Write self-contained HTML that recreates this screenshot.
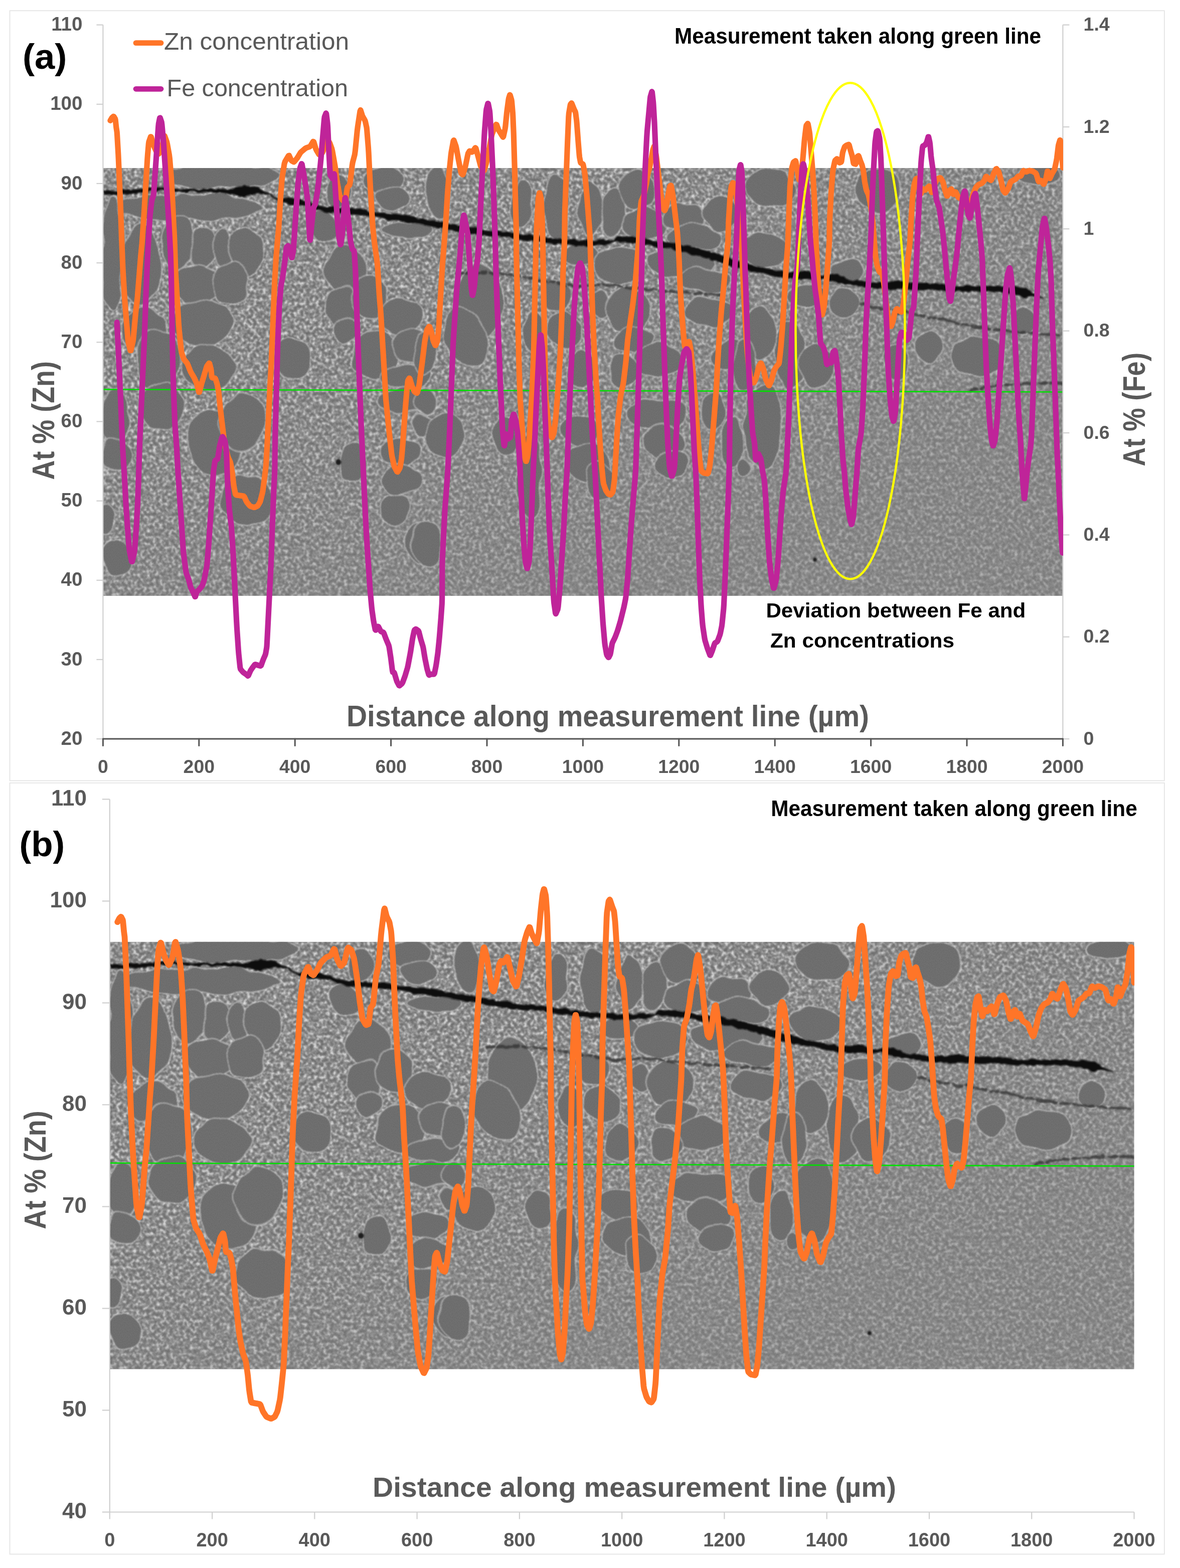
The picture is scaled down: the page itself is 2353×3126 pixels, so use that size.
<!DOCTYPE html>
<html lang="en"><head><meta charset="utf-8"><title>Zn and Fe concentration line scans</title>
<style>
html,body{margin:0;padding:0;background:#fff;}
body{width:2353px;height:3126px;overflow:hidden;}
svg{display:block;}
text{font-family:"Liberation Sans",sans-serif;}
.tk{font-weight:700;fill:#595959;}
.bk{font-weight:700;fill:#000;}
.lg{fill:#595959;}
</style></head><body>
<svg width="2353" height="3126" viewBox="0 0 2353 3126">
<defs>

<filter id="tex" x="0" y="0" width="100%" height="100%" filterUnits="objectBoundingBox" color-interpolation-filters="sRGB">
 <feTurbulence type="fractalNoise" baseFrequency="0.15" numOctaves="2" seed="7" result="t"/>
 <feColorMatrix in="t" type="matrix" values="1 0 0 0 0  1 0 0 0 0  1 0 0 0 0  0 0 0 0 1"/>
 <feComponentTransfer>
  <feFuncR type="table" tableValues="0.43 0.43 0.43 0.43 0.435 0.44 0.45 0.465 0.49 0.52 0.56 0.61 0.68 0.75 0.82 0.87 0.90 0.92 0.92 0.92 0.92"/><feFuncG type="table" tableValues="0.43 0.43 0.43 0.43 0.435 0.44 0.45 0.465 0.49 0.52 0.56 0.61 0.68 0.75 0.82 0.87 0.90 0.92 0.92 0.92 0.92"/><feFuncB type="table" tableValues="0.43 0.43 0.43 0.43 0.435 0.44 0.45 0.465 0.49 0.52 0.56 0.61 0.68 0.75 0.82 0.87 0.90 0.92 0.92 0.92 0.92"/>
 </feComponentTransfer>
 <feGaussianBlur stdDeviation="1.0"/>
</filter>
<filter id="bl1" x="0" y="0" width="100%" height="100%" filterUnits="objectBoundingBox">
 <feTurbulence type="fractalNoise" baseFrequency="0.018" numOctaves="2" seed="11" result="n"/>
 <feDisplacementMap in="SourceGraphic" in2="n" scale="22" xChannelSelector="R" yChannelSelector="G" result="d"/>
 <feGaussianBlur in="d" stdDeviation="1.2"/>
</filter>
<filter id="bl2" x="0" y="0" width="100%" height="100%" filterUnits="objectBoundingBox">
 <feTurbulence type="fractalNoise" baseFrequency="0.06" numOctaves="2" seed="5" result="n"/>
 <feDisplacementMap in="SourceGraphic" in2="n" scale="9" xChannelSelector="R" yChannelSelector="G" result="d"/>
 <feGaussianBlur in="d" stdDeviation="1.6"/>
</filter>
<filter id="bl3" x="-50%" y="-50%" width="200%" height="200%"><feGaussianBlur stdDeviation="1.5"/></filter>
<filter id="grain" x="0" y="0" width="100%" height="100%" filterUnits="objectBoundingBox" color-interpolation-filters="sRGB">
 <feTurbulence type="fractalNoise" baseFrequency="0.55" numOctaves="1" seed="21"/>
 <feColorMatrix type="matrix" values="0 0 0 0 0  0 0 0 0 0  0 0 0 0 0  1.6 0 0 0 -0.55"/>
</filter>
<linearGradient id="fade" x1="0" y1="0" x2="1" y2="1">
 <stop offset="0.3" stop-color="#898989" stop-opacity="0"/>
 <stop offset="0.75" stop-color="#898989" stop-opacity="0.5"/>
</linearGradient>
<clipPath id="semclip"><rect x="0" y="0" width="2042.8" height="851.9"/></clipPath>

<clipPath id="clipA"><rect x="203.4" y="0" width="1916.6" height="1560"/></clipPath>
<clipPath id="clipB"><rect x="216.8" y="1560" width="2045.3" height="1560"/></clipPath>
<symbol id="sem" viewBox="0 0 2042.8 851.9" preserveAspectRatio="none" overflow="hidden">
<g clip-path="url(#semclip)">
<rect x="0" y="0" width="2042.8" height="851.9" fill="#8a8a8a"/>
<rect x="0" y="0" width="2042.8" height="851.9" filter="url(#tex)"/>
<rect x="0" y="0" width="2042.8" height="851.9" fill="url(#fade)"/>
<g fill="#717171" stroke="#e0e0e0" stroke-opacity="0.5" stroke-width="2.4" filter="url(#bl1)">
<rect x="0" y="0" width="2042.8" height="851.9" fill="none" stroke="none"/>
<ellipse cx="252" cy="18" rx="128" ry="25"/>
<ellipse cx="180" cy="78" rx="157" ry="27"/>
<ellipse cx="21" cy="169" rx="25" ry="113"/>
<ellipse cx="80" cy="194" rx="42" ry="84"/>
<ellipse cx="159" cy="148" rx="34" ry="54"/>
<ellipse cx="212" cy="160" rx="29" ry="39"/>
<ellipse cx="256" cy="160" rx="21" ry="37"/>
<ellipse cx="305" cy="165" rx="38" ry="52"/>
<ellipse cx="197" cy="232" rx="54" ry="39"/>
<ellipse cx="271" cy="230" rx="39" ry="42"/>
<ellipse cx="210" cy="308" rx="64" ry="47"/>
<ellipse cx="88" cy="320" rx="49" ry="39" transform="rotate(-20 88 320)"/>
<ellipse cx="117" cy="383" rx="47" ry="64"/>
<ellipse cx="225" cy="396" rx="57" ry="47"/>
<ellipse cx="405" cy="377" rx="37" ry="42"/>
<ellipse cx="468" cy="118" rx="32" ry="34"/>
<ellipse cx="517" cy="203" rx="44" ry="49"/>
<ellipse cx="506" cy="278" rx="34" ry="42"/>
<ellipse cx="515" cy="324" rx="27" ry="25"/>
<ellipse cx="567" cy="257" rx="39" ry="44"/>
<ellipse cx="601" cy="24" rx="44" ry="29"/>
<ellipse cx="614" cy="60" rx="39" ry="25"/>
<ellipse cx="647" cy="123" rx="54" ry="15"/>
<ellipse cx="635" cy="295" rx="47" ry="37"/>
<ellipse cx="580" cy="371" rx="49" ry="49"/>
<ellipse cx="656" cy="354" rx="44" ry="34"/>
<ellipse cx="647" cy="417" rx="54" ry="25"/>
<ellipse cx="500" cy="47" rx="25" ry="34"/>
<ellipse cx="25" cy="494" rx="32" ry="54"/>
<ellipse cx="29" cy="574" rx="32" ry="34"/>
<ellipse cx="126" cy="477" rx="44" ry="49"/>
<ellipse cx="239" cy="544" rx="57" ry="69"/>
<ellipse cx="298" cy="506" rx="49" ry="59"/>
<ellipse cx="307" cy="660" rx="54" ry="52"/>
<ellipse cx="532" cy="586" rx="29" ry="39"/>
<ellipse cx="8" cy="700" rx="20" ry="30"/>
<ellipse cx="31" cy="780" rx="32" ry="39"/>
<ellipse cx="635" cy="565" rx="44" ry="29"/>
<ellipse cx="637" cy="620" rx="42" ry="30"/>
<ellipse cx="618" cy="679" rx="34" ry="32"/>
<ellipse cx="677" cy="746" rx="30" ry="44"/>
<ellipse cx="681" cy="511" rx="25" ry="20"/>
<ellipse cx="647" cy="464" rx="59" ry="25"/>
<ellipse cx="713" cy="51" rx="27" ry="54"/>
<ellipse cx="890" cy="72" rx="25" ry="49"/>
<ellipse cx="966" cy="76" rx="27" ry="64"/>
<ellipse cx="1039" cy="81" rx="25" ry="57"/>
<ellipse cx="1085" cy="89" rx="27" ry="49"/>
<ellipse cx="1138" cy="43" rx="42" ry="37"/>
<ellipse cx="1155" cy="110" rx="49" ry="34"/>
<ellipse cx="1239" cy="97" rx="44" ry="30"/>
<ellipse cx="1317" cy="91" rx="37" ry="32"/>
<ellipse cx="1260" cy="137" rx="59" ry="25"/>
<ellipse cx="802" cy="266" rx="49" ry="74"/>
<ellipse cx="770" cy="337" rx="42" ry="61" transform="rotate(-25 770 337)"/>
<ellipse cx="684" cy="371" rx="25" ry="44"/>
<ellipse cx="966" cy="257" rx="30" ry="34"/>
<ellipse cx="982" cy="324" rx="39" ry="34"/>
<ellipse cx="1016" cy="173" rx="39" ry="25"/>
<ellipse cx="1096" cy="194" rx="54" ry="39"/>
<ellipse cx="1058" cy="270" rx="20" ry="30"/>
<ellipse cx="1117" cy="282" rx="49" ry="44"/>
<ellipse cx="1130" cy="341" rx="44" ry="25"/>
<ellipse cx="1180" cy="383" rx="54" ry="34"/>
<ellipse cx="1109" cy="404" rx="30" ry="34"/>
<ellipse cx="1230" cy="186" rx="74" ry="30"/>
<ellipse cx="1279" cy="224" rx="57" ry="25"/>
<ellipse cx="1291" cy="287" rx="52" ry="30"/>
<ellipse cx="1336" cy="371" rx="39" ry="30"/>
<ellipse cx="1020" cy="400" rx="34" ry="39"/>
<ellipse cx="919" cy="329" rx="25" ry="44"/>
<ellipse cx="726" cy="532" rx="39" ry="44"/>
<ellipse cx="688" cy="464" rx="25" ry="25"/>
<ellipse cx="858" cy="532" rx="27" ry="39"/>
<ellipse cx="909" cy="616" rx="27" ry="84"/>
<ellipse cx="1016" cy="521" rx="39" ry="32"/>
<ellipse cx="1033" cy="586" rx="49" ry="39"/>
<ellipse cx="1058" cy="624" rx="30" ry="37"/>
<ellipse cx="1180" cy="490" rx="64" ry="32"/>
<ellipse cx="1193" cy="544" rx="47" ry="34"/>
<ellipse cx="1214" cy="590" rx="34" ry="27"/>
<ellipse cx="1298" cy="485" rx="25" ry="39"/>
<ellipse cx="1340" cy="544" rx="25" ry="49"/>
<ellipse cx="690" cy="746" rx="32" ry="49"/>
<ellipse cx="1365" cy="595" rx="15" ry="20"/>
<ellipse cx="1423" cy="39" rx="54" ry="39"/>
<ellipse cx="1410" cy="165" rx="52" ry="34"/>
<ellipse cx="1650" cy="43" rx="49" ry="42"/>
<ellipse cx="1583" cy="207" rx="34" ry="25"/>
<ellipse cx="1576" cy="270" rx="32" ry="30"/>
<ellipse cx="1398" cy="329" rx="34" ry="54"/>
<ellipse cx="1461" cy="371" rx="34" ry="69"/>
<ellipse cx="1364" cy="392" rx="25" ry="49"/>
<ellipse cx="1519" cy="396" rx="39" ry="44"/>
<ellipse cx="1755" cy="354" rx="30" ry="34"/>
<ellipse cx="1862" cy="375" rx="57" ry="39"/>
<ellipse cx="1957" cy="303" rx="30" ry="25"/>
<ellipse cx="1995" cy="13" rx="44" ry="20"/>
<ellipse cx="1688" cy="387" rx="25" ry="34"/>
<ellipse cx="1498" cy="253" rx="39" ry="25"/>
<ellipse cx="1406" cy="515" rx="39" ry="84"/>
</g>
<rect x="0" y="0" width="2042.8" height="851.9" fill="#000" filter="url(#grain)" opacity="0.10"/>
<g fill="none" stroke="#2a2a2a" stroke-width="6" stroke-dasharray="16 7 26 5 10 9" stroke-linecap="round" opacity="0.7" filter="url(#bl2)">
<rect x="0" y="0" width="2042.8" height="851.9" fill="none" stroke="none"/>
<path d="M751,211 L810,207 L873,213 L945,226 L1008,236 L1071,232 L1134,240 L1197,245 L1260,249 L1315,253"/>
<path d="M1612,270 L1667,282 L1730,291 L1793,303 L1856,316 L1919,324 L1982,329 L2043,334"/>
<path d="M1847,442 L1898,434 L1961,429 L2043,428"/>
</g>
<g filter="url(#bl2)"><rect x="0" y="0" width="2042.8" height="851.9" fill="none"/>
<path fill="#0a0a0a" d="M1,43.9 L33,44.9 L75,42.0 L117,38.3 L159,40.5 L202,43.5 L244,41.7 L277,40.7 L302,33.5 L328,39.7 L353,49.6 L374,61.2 L395,60.2 L420,60.2 L437,68.6 L454,73.8 L475,75.7 L517,81.2 L550,80.2 L580,89.6 L601,89.6 L643,94.0 L671,99.6 L734,110.1 L797,120.6 L860,127.4 L924,135.9 L987,142.7 L1033,143.7 L1066,142.5 L1085,144.2 L1096,135.3 L1134,137.4 L1176,144.3 L1218,149.9 L1260,157.7 L1302,169.5 L1344,182.1 L1371,189.7 L1414,200.0 L1456,209.9 L1494,204.2 L1519,214.3 L1536,214.1 L1562,209.5 L1587,223.6 L1620,224.4 L1654,228.9 L1688,225.0 L1730,229.6 L1772,229.9 L1814,234.7 L1856,234.7 L1898,235.0 L1940,237.0 L1961,238.9 L1982,250.7 L2001,259.1 L2001,261.1 L1982,256.9 L1961,258.6 L1940,250.4 L1898,247.4 L1856,246.0 L1814,246.0 L1772,242.4 L1730,241.0 L1688,240.5 L1654,239.2 L1620,237.8 L1587,231.9 L1562,229.2 L1536,220.3 L1519,222.6 L1494,221.8 L1456,220.3 L1414,213.4 L1371,205.2 L1344,197.7 L1302,185.1 L1260,173.3 L1218,164.4 L1176,155.7 L1134,149.9 L1096,147.8 L1085,147.3 L1066,154.9 L1033,156.2 L987,153.0 L924,147.2 L860,138.8 L797,133.1 L734,122.5 L671,112.0 L643,107.5 L601,101.0 L580,96.8 L550,93.6 L517,92.6 L475,87.1 L454,83.1 L437,75.8 L420,75.7 L395,71.6 L374,66.4 L353,52.7 L328,50.0 L302,56.2 L277,53.2 L244,48.0 L202,48.7 L159,46.7 L117,45.5 L75,50.3 L33,53.2 L1,54.2Z"/></g>
<circle cx="501" cy="586" r="6" fill="#1a1a1a" filter="url(#bl3)"/>
<circle cx="1515" cy="780" r="4" fill="#1a1a1a" filter="url(#bl3)"/>
</g>
</symbol>
</defs>
<rect width="2353" height="3126" fill="#fff"/>
<g id="panel-a">
<rect x="19.5" y="21.3" width="2302.3" height="1535.1" fill="#fff" stroke="#E4E4E4" stroke-width="1.8"/>
<use href="#sem" x="205.4" y="335.0" width="1914.0" height="852.8"/>
<line x1="205.4" y1="776.4" x2="2119.4" y2="781.5" stroke="#00E000" stroke-width="2.6"/>
<g stroke="#CFCFCF" stroke-width="2.2" fill="none">
<line x1="205.4" y1="49.6" x2="205.4" y2="1473.1"/>
<line x1="2119.4" y1="49.6" x2="2119.4" y2="1473.1"/>
<line x1="192.4" y1="1473.1" x2="205.4" y2="1473.1"/>
<line x1="192.4" y1="1314.9" x2="205.4" y2="1314.9"/>
<line x1="192.4" y1="1156.8" x2="205.4" y2="1156.8"/>
<line x1="192.4" y1="998.6" x2="205.4" y2="998.6"/>
<line x1="192.4" y1="840.4" x2="205.4" y2="840.4"/>
<line x1="192.4" y1="682.3" x2="205.4" y2="682.3"/>
<line x1="192.4" y1="524.1" x2="205.4" y2="524.1"/>
<line x1="192.4" y1="365.9" x2="205.4" y2="365.9"/>
<line x1="192.4" y1="207.8" x2="205.4" y2="207.8"/>
<line x1="192.4" y1="49.6" x2="205.4" y2="49.6"/>
<line x1="2119.4" y1="49.6" x2="2132.4" y2="49.6"/>
<line x1="2119.4" y1="253.0" x2="2132.4" y2="253.0"/>
<line x1="2119.4" y1="456.3" x2="2132.4" y2="456.3"/>
<line x1="2119.4" y1="659.7" x2="2132.4" y2="659.7"/>
<line x1="2119.4" y1="863.0" x2="2132.4" y2="863.0"/>
<line x1="2119.4" y1="1066.4" x2="2132.4" y2="1066.4"/>
<line x1="2119.4" y1="1269.7" x2="2132.4" y2="1269.7"/>
<line x1="2119.4" y1="1473.1" x2="2132.4" y2="1473.1"/>
</g>
<g stroke="#555555" stroke-width="3" fill="none" stroke-linecap="round">
<line x1="205.4" y1="1473.1" x2="2119.4" y2="1473.1"/>
<line x1="205.4" y1="1473.1" x2="205.4" y2="1486.6"/>
<line x1="396.8" y1="1473.1" x2="396.8" y2="1486.6"/>
<line x1="588.2" y1="1473.1" x2="588.2" y2="1486.6"/>
<line x1="779.6" y1="1473.1" x2="779.6" y2="1486.6"/>
<line x1="971.0" y1="1473.1" x2="971.0" y2="1486.6"/>
<line x1="1162.4" y1="1473.1" x2="1162.4" y2="1486.6"/>
<line x1="1353.8" y1="1473.1" x2="1353.8" y2="1486.6"/>
<line x1="1545.2" y1="1473.1" x2="1545.2" y2="1486.6"/>
<line x1="1736.6" y1="1473.1" x2="1736.6" y2="1486.6"/>
<line x1="1928.0" y1="1473.1" x2="1928.0" y2="1486.6"/>
<line x1="2119.4" y1="1473.1" x2="2119.4" y2="1486.6"/>
</g>
<g clip-path="url(#clipA)">
<path d="M219.9,240.3 L220.2,239.8 L222.9,235.3 L223.6,234.4 L226.3,232.2 L227.0,232.5 L229.7,237.0 L230.2,239.1 L231.5,251.4 L231.8,254.1 L233.2,263.1 L233.6,269.0 L235.8,307.1 L236.3,317.5 L238.2,362.5 L238.7,373.7 L240.6,418.6 L241.0,430.1 L242.6,477.3 L243.1,488.8 L244.9,533.7 L245.5,545.0 L248.2,589.9 L248.9,599.7 L251.6,633.4 L252.3,641.8 L255.0,675.5 L255.8,681.8 L259.9,698.7 L260.9,698.7 L264.9,681.8 L266.0,674.1 L270.0,629.2 L270.8,620.8 L273.5,598.3 L274.2,591.3 L276.9,557.6 L277.6,549.2 L280.3,515.5 L280.9,508.5 L283.1,486.0 L283.7,477.3 L287.0,430.1 L287.7,418.6 L290.4,373.7 L291.1,362.5 L293.8,317.5 L294.4,309.1 L296.3,286.7 L296.9,282.6 L300.5,272.5 L301.4,273.0 L305.5,287.6 L306.5,290.6 L310.5,299.6 L311.5,301.4 L315.6,307.0 L316.8,306.4 L322.2,296.3 L323.4,292.5 L327.4,272.3 L328.4,271.2 L332.5,282.4 L333.5,286.7 L337.5,309.1 L338.4,316.1 L341.1,349.8 L341.7,358.3 L343.5,391.9 L344.1,401.8 L346.2,446.7 L346.7,455.4 L348.0,480.1 L348.3,488.8 L349.7,533.7 L350.2,545.0 L352.9,589.9 L353.6,601.1 L356.3,646.0 L357.1,656.7 L361.2,697.1 L362.2,703.6 L366.2,714.8 L367.4,717.1 L372.8,723.8 L374.2,726.3 L379.6,739.8 L380.9,742.6 L386.3,751.6 L387.5,753.9 L391.6,762.8 L392.6,765.9 L396.6,781.7 L397.6,781.7 L401.7,765.9 L402.7,762.3 L406.8,748.8 L407.8,745.4 L411.8,732.0 L412.8,729.6 L416.9,724.0 L417.7,724.5 L420.4,734.6 L420.9,737.6 L422.3,751.1 L423.1,752.9 L428.5,754.0 L429.5,755.1 L432.2,763.0 L432.9,765.7 L435.6,779.1 L436.3,784.3 L439.0,811.8 L439.7,818.0 L442.4,840.5 L443.1,846.1 L445.8,868.6 L446.4,873.3 L449.1,889.1 L450.0,893.0 L454.0,908.7 L455.0,911.8 L459.1,920.8 L459.9,923.9 L462.6,939.6 L463.3,944.4 L466.0,966.8 L466.7,971.3 L469.4,984.8 L470.6,986.6 L477.3,987.7 L479.0,988.0 L485.8,989.1 L487.1,990.4 L491.2,999.4 L492.4,1001.4 L497.8,1008.1 L499.3,1009.2 L506.0,1011.5 L507.5,1011.5 L512.9,1009.2 L514.1,1008.1 L518.2,1001.4 L519.2,998.6 L523.2,982.8 L524.1,978.3 L526.8,958.1 L527.5,952.8 L530.2,930.3 L530.7,923.3 L532.6,889.6 L533.1,879.8 L535.3,834.9 L535.8,823.6 L538.0,778.7 L538.5,768.9 L540.4,735.2 L541.0,723.0 L543.7,659.6 L544.3,643.2 L547.1,575.9 L547.7,561.8 L550.4,516.9 L551.0,508.5 L552.9,486.0 L553.4,480.1 L555.6,455.4 L556.2,446.7 L558.9,401.8 L559.5,391.9 L562.2,358.3 L563.1,351.0 L567.1,326.2 L568.5,321.8 L575.2,310.5 L576.6,310.2 L580.6,319.2 L581.7,320.6 L585.7,322.9 L586.9,322.3 L592.3,315.6 L593.6,313.6 L599.0,304.6 L600.7,302.7 L608.8,295.9 L610.7,294.8 L617.5,292.5 L619.0,291.1 L624.4,282.2 L625.6,282.7 L629.6,296.2 L630.8,299.0 L636.2,308.0 L637.5,308.6 L642.9,304.1 L644.3,301.1 L649.7,282.0 L651.0,280.1 L656.5,283.4 L657.6,285.2 L661.7,296.5 L662.7,300.7 L666.7,323.2 L667.8,329.6 L671.8,358.8 L672.8,365.3 L676.9,387.7 L678.1,391.5 L683.5,399.4 L684.6,400.2 L688.7,399.1 L689.5,396.4 L692.2,376.2 L693.1,373.1 L697.1,368.6 L698.2,363.9 L702.2,330.2 L703.2,324.0 L707.3,308.3 L708.3,301.3 L712.3,260.8 L713.4,252.0 L718.0,221.7 L719.0,219.3 L722.5,230.5 L723.5,232.7 L727.5,239.5 L728.4,241.9 L731.1,254.2 L731.7,260.0 L734.4,293.7 L735.1,304.9 L737.8,361.1 L738.7,376.5 L742.7,443.9 L743.6,455.4 L746.3,480.1 L747.2,487.4 L751.9,521.1 L752.9,530.9 L755.6,575.9 L756.2,585.7 L758.9,619.4 L759.6,629.2 L762.3,674.1 L763.0,685.4 L765.7,730.3 L766.4,741.8 L769.1,789.0 L769.7,798.3 L772.4,825.8 L773.2,833.5 L776.7,867.2 L777.6,875.0 L780.8,904.2 L781.7,910.1 L785.8,928.1 L786.9,931.4 L791.7,940.4 L792.9,940.7 L796.9,934.0 L797.8,931.2 L800.5,915.4 L801.0,910.7 L802.9,888.2 L803.4,882.0 L805.3,855.1 L805.8,848.1 L808.0,818.9 L808.5,811.8 L810.7,784.9 L811.2,779.3 L813.1,761.3 L813.6,758.5 L816.3,754.0 L817.2,755.1 L821.2,768.6 L822.2,771.4 L826.3,780.4 L827.3,781.7 L831.4,783.5 L832.3,782.1 L835.5,769.1 L836.5,762.9 L841.4,726.4 L842.5,717.6 L846.6,683.9 L847.5,677.5 L851.0,659.5 L851.9,656.6 L855.7,651.0 L856.6,651.5 L860.1,661.6 L860.9,664.6 L863.6,678.1 L864.4,680.7 L867.9,688.6 L868.7,688.6 L872.0,680.7 L872.7,676.9 L874.8,654.5 L875.3,647.4 L877.2,613.8 L877.7,605.3 L879.6,571.6 L880.1,563.2 L882.2,529.5 L882.8,521.1 L885.6,487.4 L886.2,478.7 L888.9,442.8 L889.6,432.7 L892.3,387.7 L893.0,377.9 L895.7,344.2 L896.4,336.6 L899.1,309.7 L899.9,303.5 L904.0,281.0 L905.0,279.6 L909.0,290.9 L910.0,295.1 L914.1,317.5 L915.1,322.9 L919.1,343.1 L920.0,345.9 L922.7,348.1 L923.5,346.7 L927.6,333.3 L928.6,329.1 L932.7,308.8 L933.5,305.7 L936.2,301.3 L937.0,301.0 L941.1,303.2 L942.3,302.5 L947.7,294.7 L948.9,295.5 L952.9,310.1 L953.9,313.9 L958.0,329.6 L959.2,332.6 L964.6,340.4 L965.7,339.6 L969.8,325.0 L970.8,320.6 L974.9,300.4 L975.9,295.1 L979.9,272.6 L980.9,268.4 L985.0,257.2 L985.9,254.9 L989.4,248.2 L990.3,248.5 L993.5,257.5 L994.4,259.4 L998.5,266.2 L999.4,267.7 L1003.0,273.3 L1003.8,272.2 L1007.0,257.6 L1007.8,252.4 L1010.5,225.4 L1011.2,219.5 L1013.9,199.3 L1014.5,196.0 L1016.6,189.2 L1017.2,189.5 L1019.9,198.5 L1020.5,202.4 L1022.4,224.9 L1022.8,231.9 L1024.2,265.6 L1024.5,275.4 L1025.8,320.3 L1026.2,333.0 L1027.5,389.1 L1027.9,401.8 L1029.2,446.7 L1029.4,458.2 L1029.7,505.4 L1029.9,516.9 L1030.9,561.8 L1031.3,575.9 L1032.9,643.2 L1033.3,660.1 L1034.9,727.5 L1035.3,741.8 L1037.0,789.0 L1037.4,798.3 L1039.3,825.8 L1039.9,834.3 L1042.6,874.7 L1043.2,882.9 L1045.9,907.6 L1046.5,911.7 L1048.7,919.5 L1049.3,919.5 L1051.7,911.7 L1052.4,907.0 L1055.1,877.8 L1055.7,869.7 L1057.8,833.7 L1058.4,825.0 L1060.5,791.3 L1061.1,779.2 L1063.8,715.7 L1064.4,696.6 L1066.3,606.7 L1066.8,584.3 L1068.7,494.4 L1069.1,478.7 L1070.7,442.8 L1071.2,434.1 L1073.1,400.4 L1073.6,394.9 L1075.7,384.8 L1076.3,384.8 L1078.7,394.9 L1079.2,400.4 L1080.9,434.1 L1081.2,442.8 L1082.3,478.7 L1082.5,491.6 L1083.6,559.0 L1084.0,578.7 L1085.6,668.5 L1086.1,691.2 L1088.2,783.3 L1088.7,796.3 L1090.0,808.1 L1090.5,813.2 L1093.2,842.4 L1093.9,848.1 L1096.6,863.8 L1097.3,866.5 L1100.6,872.1 L1101.3,871.8 L1104.3,863.9 L1105.0,860.1 L1107.7,837.7 L1108.4,830.7 L1111.1,797.0 L1112.0,784.3 L1116.6,716.3 L1117.5,699.4 L1120.2,632.0 L1120.8,615.2 L1122.7,547.8 L1123.2,533.7 L1125.4,488.8 L1125.7,477.3 L1126.2,430.1 L1126.6,417.2 L1128.7,361.1 L1129.3,347.0 L1131.4,290.9 L1131.9,278.2 L1133.8,233.3 L1134.4,225.7 L1137.1,210.0 L1137.7,207.8 L1139.6,205.5 L1140.2,206.4 L1143.8,215.3 L1144.5,217.2 L1147.2,222.8 L1147.8,225.3 L1149.7,239.9 L1150.2,245.4 L1152.4,274.6 L1152.9,281.6 L1155.1,308.6 L1155.6,313.2 L1157.5,323.3 L1158.2,324.8 L1162.3,327.1 L1163.1,329.2 L1165.8,343.8 L1166.5,349.3 L1169.2,378.5 L1169.9,386.3 L1172.6,420.0 L1173.2,428.4 L1175.9,462.1 L1176.4,470.8 L1177.5,506.8 L1177.8,515.5 L1179.1,549.2 L1179.5,560.4 L1181.4,616.6 L1182.0,630.6 L1184.4,686.8 L1185.1,699.4 L1187.8,744.3 L1188.4,754.4 L1191.1,790.4 L1191.6,798.3 L1193.0,825.8 L1193.5,834.9 L1196.2,879.8 L1196.9,889.9 L1199.6,925.8 L1200.2,933.7 L1202.9,960.6 L1203.8,965.4 L1207.8,976.7 L1208.8,978.8 L1212.8,984.4 L1213.7,985.2 L1217.2,986.3 L1218.1,985.9 L1221.6,981.4 L1222.4,978.3 L1225.1,958.1 L1225.6,951.4 L1227.5,917.7 L1228.0,909.3 L1229.9,875.6 L1230.4,867.2 L1232.6,833.5 L1233.3,825.0 L1237.4,791.3 L1238.4,784.8 L1242.5,766.3 L1243.5,759.8 L1247.5,726.1 L1248.4,717.6 L1251.1,683.9 L1251.9,676.1 L1256.0,646.9 L1257.0,639.9 L1261.0,612.9 L1262.0,605.3 L1266.1,571.6 L1266.9,563.2 L1269.6,529.5 L1270.3,521.1 L1273.0,487.4 L1273.5,478.7 L1274.9,442.8 L1275.4,434.6 L1278.1,405.4 L1278.9,400.6 L1283.0,391.7 L1284.0,388.3 L1288.0,370.3 L1288.9,365.8 L1291.6,347.9 L1292.3,344.5 L1295.0,335.5 L1295.6,332.7 L1298.3,319.2 L1299.0,315.6 L1301.7,299.8 L1302.3,297.2 L1304.5,291.6 L1305.2,293.0 L1308.4,309.8 L1309.1,314.7 L1311.8,337.2 L1312.5,342.8 L1315.2,365.3 L1315.9,370.9 L1318.6,393.3 L1319.3,398.1 L1322.0,413.8 L1322.6,416.2 L1325.3,419.6 L1326.0,419.0 L1328.7,411.2 L1329.4,407.9 L1332.1,390.0 L1332.8,386.0 L1335.5,372.6 L1336.1,370.7 L1337.9,369.6 L1338.5,371.3 L1341.2,385.9 L1341.8,390.0 L1344.0,407.9 L1344.6,413.0 L1347.3,435.5 L1348.0,441.1 L1350.7,463.5 L1351.2,469.4 L1352.8,494.1 L1353.2,500.0 L1354.3,522.5 L1354.6,530.9 L1356.5,575.9 L1357.0,585.7 L1359.2,619.4 L1359.8,627.8 L1362.5,661.5 L1363.1,668.2 L1365.0,688.4 L1365.6,691.1 L1369.1,692.2 L1370.0,691.1 L1373.5,681.0 L1374.3,681.4 L1377.0,694.9 L1377.8,700.5 L1381.0,732.0 L1381.7,740.1 L1384.4,773.8 L1385.0,781.7 L1387.2,811.5 L1387.9,820.8 L1391.1,865.7 L1391.9,875.6 L1394.6,909.3 L1395.2,916.0 L1397.9,936.2 L1398.8,939.2 L1402.8,942.5 L1404.2,943.1 L1410.9,944.2 L1412.1,943.0 L1414.8,931.7 L1415.5,927.2 L1418.2,902.5 L1418.9,895.2 L1421.6,861.5 L1422.3,853.1 L1425.0,819.4 L1425.6,811.0 L1428.3,777.3 L1428.8,769.4 L1430.2,739.6 L1430.7,730.3 L1433.4,685.4 L1434.2,674.1 L1437.7,629.2 L1438.5,619.4 L1441.8,585.7 L1442.7,575.9 L1446.7,530.9 L1447.7,521.1 L1451.2,487.4 L1451.8,478.7 L1452.8,442.8 L1453.3,434.1 L1455.4,400.4 L1456.0,393.6 L1458.1,373.4 L1458.7,370.2 L1461.4,364.6 L1462.2,364.8 L1465.4,372.7 L1466.1,375.9 L1468.9,393.9 L1469.5,399.0 L1472.2,421.4 L1472.9,427.0 L1475.6,449.5 L1476.2,455.4 L1478.4,480.1 L1478.8,487.4 L1480.2,521.1 L1480.6,530.9 L1482.8,575.9 L1483.3,587.1 L1485.8,632.0 L1486.4,643.2 L1489.1,688.2 L1489.8,697.4 L1492.5,726.6 L1493.2,732.5 L1495.9,750.5 L1496.9,753.9 L1502.3,762.8 L1503.5,762.8 L1507.5,753.9 L1508.5,750.5 L1512.6,732.5 L1513.5,729.6 L1517.0,724.0 L1518.0,724.5 L1522.0,734.6 L1522.9,737.9 L1526.2,753.6 L1527.3,756.9 L1532.7,768.2 L1533.8,768.5 L1537.9,759.5 L1538.9,756.4 L1543.0,740.7 L1544.0,737.9 L1548.0,731.1 L1549.0,729.7 L1553.1,725.2 L1553.9,721.6 L1556.6,696.9 L1557.3,689.6 L1560.0,655.9 L1560.7,646.0 L1563.4,601.1 L1564.1,589.9 L1566.8,545.0 L1567.5,533.7 L1570.8,488.8 L1571.4,477.3 L1573.0,430.1 L1573.4,418.6 L1575.3,373.7 L1575.9,364.7 L1578.6,337.8 L1579.3,333.3 L1582.0,324.3 L1582.7,322.9 L1586.3,320.6 L1587.0,322.3 L1589.7,338.0 L1590.4,342.0 L1593.1,357.7 L1593.9,358.8 L1597.1,352.1 L1597.8,347.9 L1600.5,320.9 L1601.2,313.6 L1603.9,282.2 L1604.6,275.4 L1607.3,253.0 L1608.0,249.7 L1610.7,246.4 L1611.3,247.8 L1614.0,262.4 L1614.7,267.6 L1616.8,294.5 L1617.4,302.1 L1620.1,335.8 L1620.7,344.2 L1622.9,377.9 L1623.4,386.3 L1625.0,420.0 L1625.4,428.4 L1626.7,462.1 L1626.9,468.0 L1627.0,481.5 L1627.3,487.4 L1629.2,521.1 L1629.7,530.1 L1632.1,568.3 L1632.8,576.7 L1635.5,605.9 L1636.2,611.5 L1638.9,627.2 L1639.6,627.5 L1642.8,614.0 L1643.6,608.8 L1646.3,580.8 L1647.0,572.9 L1649.7,538.1 L1650.4,528.7 L1653.3,488.2 L1653.8,478.7 L1654.3,442.8 L1654.7,432.7 L1657.1,387.7 L1657.8,377.9 L1660.5,344.2 L1661.2,338.0 L1664.5,322.3 L1665.3,319.9 L1668.8,316.6 L1669.7,317.0 L1673.2,323.7 L1674.0,324.4 L1677.3,323.3 L1678.0,321.2 L1680.1,305.5 L1680.8,302.4 L1684.0,293.4 L1684.8,292.0 L1688.1,289.7 L1688.9,289.3 L1692.4,288.2 L1693.2,289.3 L1695.9,299.4 L1696.6,301.8 L1699.3,310.8 L1699.9,313.3 L1701.8,324.6 L1702.4,326.1 L1706.0,327.2 L1706.7,325.8 L1709.4,313.5 L1710.0,311.8 L1711.9,310.7 L1712.5,311.5 L1715.2,319.4 L1715.8,321.2 L1718.5,327.9 L1719.2,329.9 L1721.3,338.9 L1721.9,342.2 L1724.0,360.2 L1724.6,364.1 L1727.3,377.6 L1728.1,380.2 L1731.3,386.9 L1732.1,389.4 L1734.8,402.9 L1735.4,406.5 L1738.1,422.3 L1738.7,427.0 L1740.9,449.5 L1741.4,455.4 L1743.3,480.1 L1743.8,486.0 L1745.7,508.5 L1746.2,513.2 L1748.9,529.0 L1749.7,532.0 L1753.2,541.0 L1754.2,542.6 L1758.8,545.9 L1759.7,547.9 L1761.8,560.3 L1762.4,564.6 L1765.1,587.1 L1765.8,592.7 L1768.5,615.2 L1769.2,620.2 L1771.9,638.2 L1772.7,641.6 L1776.2,650.5 L1777.0,650.5 L1780.3,641.6 L1781.0,638.7 L1783.7,625.3 L1784.5,622.7 L1788.0,616.0 L1788.8,615.6 L1792.1,618.9 L1793.0,619.7 L1797.1,621.9 L1797.9,620.9 L1800.6,610.8 L1801.3,606.7 L1804.0,584.3 L1804.6,578.1 L1807.4,551.1 L1808.0,544.1 L1810.7,514.9 L1811.4,508.5 L1814.1,486.0 L1814.7,478.7 L1816.6,442.8 L1817.1,434.1 L1819.2,400.4 L1819.8,393.3 L1822.5,370.9 L1823.2,367.0 L1825.9,358.0 L1826.5,356.7 L1828.7,355.6 L1829.3,357.3 L1832.0,371.9 L1832.7,375.1 L1835.4,386.3 L1836.1,386.6 L1839.4,377.6 L1840.3,376.8 L1844.3,379.0 L1845.3,378.7 L1849.4,374.3 L1850.2,373.4 L1852.9,371.2 L1853.8,372.3 L1857.8,383.5 L1858.8,383.2 L1862.9,369.8 L1863.9,367.0 L1868.0,358.0 L1869.1,356.6 L1874.5,354.3 L1875.7,354.9 L1879.8,361.6 L1880.7,364.1 L1883.9,377.6 L1884.8,380.6 L1888.3,390.7 L1889.2,390.7 L1893.3,380.6 L1894.1,379.0 L1896.8,376.8 L1897.5,377.6 L1900.2,386.6 L1901.1,387.2 L1905.1,382.7 L1906.1,383.2 L1910.2,392.2 L1911.2,393.6 L1915.2,395.9 L1916.2,396.4 L1920.3,398.7 L1921.3,400.1 L1925.4,409.1 L1926.4,411.0 L1930.4,417.8 L1931.4,417.2 L1935.5,406.0 L1936.5,402.6 L1940.6,386.9 L1941.6,383.8 L1945.6,374.8 L1946.6,373.1 L1950.7,368.6 L1951.9,367.8 L1957.3,365.6 L1958.5,364.7 L1962.5,360.2 L1963.3,358.8 L1966.0,352.1 L1966.9,351.8 L1970.9,356.3 L1972.0,357.1 L1976.0,359.4 L1977.0,358.3 L1981.1,347.0 L1982.1,344.6 L1986.1,336.8 L1987.2,336.5 L1991.2,342.1 L1992.2,344.8 L1996.3,360.5 L1997.1,364.1 L1999.8,377.6 L2000.6,379.9 L2004.1,384.4 L2005.1,384.1 L2009.7,377.3 L2010.8,375.1 L2014.8,363.9 L2015.9,362.2 L2019.9,359.9 L2020.9,359.4 L2025.0,357.1 L2026.0,356.3 L2030.0,351.8 L2031.0,351.2 L2035.1,351.2 L2036.1,350.1 L2040.2,341.1 L2041.2,340.3 L2045.2,342.5 L2046.4,342.5 L2051.8,340.3 L2053.2,340.1 L2058.6,341.3 L2059.9,341.8 L2065.3,345.2 L2066.5,347.3 L2070.6,360.8 L2071.6,362.2 L2075.6,359.9 L2076.6,360.5 L2080.7,367.2 L2081.6,367.0 L2085.1,358.0 L2085.9,355.2 L2088.6,341.7 L2089.4,341.7 L2092.6,355.2 L2093.5,355.7 L2097.6,346.7 L2098.6,344.8 L2102.6,338.0 L2103.5,335.2 L2106.8,319.5 L2107.5,314.7 L2110.2,292.3 L2110.9,288.3 L2113.6,279.4 L2114.2,279.6 L2116.4,290.9 L2116.8,294.8 L2118.2,315.0 L2118.4,319.2 L2119.2,332.7 L2119.3,334.4" fill="none" stroke="#FF7528" stroke-width="11.2" stroke-linejoin="round" stroke-linecap="round"/>
<path d="M233.2,642.7 L233.4,646.8 L235.1,680.0 L235.6,689.5 L237.6,732.8 L238.1,743.6 L240.1,786.8 L240.6,797.7 L242.3,840.9 L242.8,851.7 L244.8,895.0 L245.3,904.3 L247.3,936.0 L247.9,945.4 L250.2,988.6 L250.8,999.5 L253.7,1042.7 L254.4,1052.8 L257.3,1090.3 L258.2,1097.7 L262.5,1119.3 L263.6,1119.6 L267.9,1100.9 L268.8,1093.5 L271.7,1053.2 L272.4,1042.7 L274.7,999.5 L275.1,988.6 L276.6,945.4 L276.9,934.2 L278.4,888.1 L278.9,875.1 L281.5,817.5 L282.1,803.1 L284.7,745.4 L285.4,731.0 L288.0,673.3 L288.5,658.9 L290.6,601.3 L291.0,588.6 L292.8,545.4 L293.3,534.2 L295.6,488.1 L296.2,476.9 L298.8,433.7 L299.5,425.4 L302.3,402.3 L303.1,398.4 L305.9,389.7 L306.7,383.6 L309.5,343.2 L310.3,332.8 L313.2,289.5 L313.8,280.5 L315.8,251.7 L316.3,246.7 L318.6,235.1 L319.3,234.8 L322.2,243.4 L322.9,248.5 L325.8,280.2 L326.5,289.5 L329.4,332.8 L330.1,343.6 L333.0,386.8 L333.7,397.7 L336.6,440.9 L337.2,451.7 L339.5,495.0 L340.0,504.3 L341.1,536.0 L341.4,545.4 L342.2,588.6 L342.5,601.3 L343.3,658.9 L343.6,673.3 L344.7,731.0 L345.0,743.6 L346.5,786.8 L346.9,797.7 L348.6,840.9 L349.1,849.9 L351.4,878.7 L352.0,888.1 L354.6,934.2 L355.3,945.4 L358.2,988.6 L358.9,999.5 L361.8,1042.7 L362.5,1053.5 L365.4,1096.8 L366.3,1106.1 L370.6,1137.8 L371.7,1143.2 L376.0,1154.8 L376.9,1157.7 L379.8,1169.2 L380.7,1171.7 L385.0,1180.4 L385.9,1182.3 L388.8,1189.5 L389.5,1189.4 L392.4,1180.7 L393.3,1179.1 L397.7,1174.8 L398.7,1173.5 L403.1,1167.7 L404.0,1165.9 L406.8,1157.3 L407.7,1153.3 L412.1,1130.3 L413.0,1123.1 L415.9,1088.5 L416.6,1078.7 L419.5,1035.5 L420.2,1024.7 L423.1,981.4 L423.6,972.4 L425.4,943.6 L425.9,937.8 L428.5,920.5 L429.4,918.0 L433.7,915.1 L434.6,912.3 L437.5,892.1 L438.4,887.6 L442.7,871.7 L443.8,870.6 L448.1,877.8 L448.9,880.9 L451.2,898.2 L451.7,904.3 L452.8,936.0 L453.1,943.6 L454.3,972.4 L454.7,980.4 L457.3,1015.0 L458.0,1022.2 L460.9,1045.2 L461.6,1053.5 L464.5,1096.8 L465.2,1109.4 L468.1,1167.0 L468.8,1181.4 L471.7,1239.1 L472.4,1251.7 L475.3,1295.0 L476.0,1303.7 L478.7,1330.0 L479.6,1334.1 L484.5,1339.8 L485.7,1340.9 L490.0,1343.8 L491.0,1344.5 L494.4,1347.4 L495.3,1346.7 L499.1,1338.0 L499.9,1336.4 L502.8,1332.1 L503.7,1330.8 L508.0,1325.0 L509.1,1324.5 L513.4,1325.9 L514.6,1326.3 L519.5,1327.7 L520.6,1326.7 L524.3,1316.6 L525.2,1314.2 L529.0,1305.6 L529.7,1303.1 L531.7,1291.5 L532.1,1287.5 L533.2,1266.9 L533.7,1257.1 L536.6,1199.5 L537.3,1185.0 L540.2,1127.4 L540.8,1113.0 L542.8,1055.3 L543.4,1040.9 L545.7,983.2 L546.1,972.4 L547.6,943.6 L547.9,932.4 L548.7,871.9 L549.1,855.3 L551.1,783.2 L551.6,765.2 L553.6,693.2 L554.2,676.9 L556.5,619.3 L557.1,607.7 L560.0,573.2 L560.7,567.0 L563.6,552.6 L564.4,547.6 L567.9,521.6 L568.6,515.9 L570.9,495.7 L571.5,492.8 L574.4,489.9 L575.1,490.6 L578.0,499.3 L578.7,501.8 L581.6,513.3 L582.3,513.3 L584.6,501.8 L585.1,496.8 L587.1,467.9 L587.7,458.9 L590.6,415.7 L591.4,405.6 L594.2,368.1 L595.0,360.5 L597.8,337.5 L598.6,333.7 L601.4,326.5 L602.2,327.6 L605.0,343.4 L605.8,347.6 L608.6,364.9 L609.4,369.5 L612.3,389.7 L612.9,395.9 L614.9,424.7 L615.4,433.7 L617.7,476.9 L618.4,478.7 L621.3,449.9 L622.0,443.1 L624.9,417.1 L625.6,413.2 L628.5,407.4 L629.2,404.5 L632.1,387.2 L632.8,382.2 L635.7,359.1 L636.4,352.6 L639.3,323.8 L640.0,315.9 L642.9,281.3 L643.6,272.6 L646.5,238.0 L647.2,232.8 L650.1,225.6 L650.7,227.0 L653.0,245.8 L653.6,253.5 L655.6,296.8 L656.1,306.8 L658.1,344.3 L658.8,349.7 L662.6,355.5 L663.4,355.1 L666.3,346.5 L666.8,348.3 L668.3,371.4 L668.8,379.6 L671.7,422.9 L672.4,432.6 L675.3,467.2 L676.0,473.3 L678.9,487.7 L679.6,487.0 L682.5,466.8 L683.2,460.0 L685.5,425.4 L686.0,418.2 L688.0,395.1 L688.6,394.4 L691.5,411.7 L692.3,417.1 L695.1,443.1 L695.9,449.9 L698.7,478.7 L699.5,483.8 L702.3,495.3 L703.1,497.1 L705.9,500.0 L706.6,504.3 L708.6,536.0 L709.1,547.2 L710.9,604.9 L711.5,621.1 L714.1,693.2 L714.8,711.2 L717.7,783.2 L718.3,799.5 L720.6,857.1 L721.3,871.9 L724.1,932.4 L724.8,945.4 L726.8,988.6 L727.4,1001.3 L730.3,1058.9 L731.0,1071.5 L733.9,1114.8 L734.6,1125.6 L737.5,1168.8 L738.2,1178.2 L741.1,1209.9 L741.8,1216.4 L744.7,1236.6 L745.4,1240.9 L748.3,1255.3 L749.2,1256.2 L753.5,1249.0 L754.6,1249.2 L758.9,1257.8 L760.0,1259.1 L764.3,1260.5 L765.4,1262.2 L769.7,1273.7 L770.8,1276.4 L775.1,1286.5 L776.0,1290.1 L778.9,1308.8 L779.6,1314.1 L782.5,1337.1 L783.2,1340.1 L785.7,1340.5 L786.6,1342.3 L790.9,1356.8 L791.9,1359.5 L795.7,1366.7 L796.7,1367.0 L801.6,1362.7 L802.8,1360.7 L807.1,1349.2 L808.2,1345.9 L812.5,1331.5 L813.6,1326.8 L817.9,1303.8 L818.9,1298.0 L822.4,1275.0 L823.2,1270.5 L826.0,1257.5 L826.7,1255.7 L829.0,1254.2 L829.8,1254.4 L834.1,1257.3 L835.2,1259.5 L838.9,1273.9 L839.8,1277.1 L843.3,1288.6 L844.1,1292.3 L846.9,1309.5 L847.7,1313.9 L851.2,1331.2 L852.0,1334.6 L854.9,1344.7 L855.7,1345.8 L859.4,1344.3 L860.5,1344.1 L865.4,1344.1 L866.4,1342.3 L869.3,1327.9 L870.0,1323.6 L872.9,1303.4 L873.5,1298.0 L875.8,1275.0 L876.4,1268.5 L878.7,1239.6 L879.3,1232.4 L881.3,1203.6 L881.6,1192.0 L881.9,1128.2 L882.2,1114.8 L884.3,1071.5 L884.8,1060.7 L887.1,1017.5 L887.7,1008.5 L890.0,979.6 L890.5,972.4 L892.5,943.6 L893.2,932.4 L896.0,871.9 L896.8,855.3 L899.6,783.2 L900.4,765.2 L903.2,693.2 L904.0,678.7 L906.8,635.5 L907.6,624.7 L910.5,581.4 L911.2,572.4 L914.1,543.6 L914.8,536.0 L917.7,504.3 L918.3,496.8 L920.3,467.9 L920.8,461.4 L923.1,438.4 L923.6,434.8 L925.0,429.0 L925.6,430.1 L928.5,444.5 L929.2,448.1 L932.1,462.5 L932.7,467.9 L934.7,496.8 L935.2,504.3 L937.5,536.0 L938.0,543.2 L939.5,569.2 L939.9,574.2 L941.9,588.6 L942.5,588.6 L945.4,574.2 L946.1,569.2 L948.4,543.2 L949.0,537.8 L951.9,520.5 L952.5,514.8 L954.8,485.9 L955.4,476.9 L957.4,433.7 L957.9,422.9 L959.9,379.6 L960.5,368.8 L962.8,325.6 L963.4,314.8 L965.7,271.5 L966.3,261.4 L969.2,224.0 L969.9,217.8 L972.8,206.3 L973.5,206.7 L976.4,221.1 L977.0,227.2 L979.0,261.8 L979.5,271.5 L981.5,314.8 L982.0,325.6 L983.7,368.8 L984.1,379.6 L985.6,422.9 L985.9,433.7 L987.4,476.9 L987.7,488.1 L988.9,534.2 L989.2,545.4 L990.6,588.6 L991.0,599.5 L992.8,642.7 L993.2,653.5 L994.9,696.8 L995.4,707.6 L997.1,750.8 L997.5,761.6 L999.6,804.9 L1000.0,815.0 L1001.8,852.4 L1002.3,860.5 L1005.2,887.9 L1005.9,888.6 L1008.8,867.0 L1009.6,865.4 L1013.1,874.1 L1013.9,874.8 L1017.4,871.9 L1018.1,868.3 L1019.8,842.3 L1020.4,837.7 L1023.9,826.1 L1024.8,826.1 L1028.2,837.7 L1029.0,841.6 L1031.9,861.8 L1032.5,867.9 L1034.8,896.8 L1035.4,904.3 L1037.1,936.0 L1037.5,943.6 L1038.9,972.4 L1039.3,981.4 L1041.0,1024.7 L1041.6,1035.5 L1044.2,1078.7 L1044.8,1087.7 L1047.4,1116.6 L1048.1,1121.6 L1051.0,1133.2 L1051.7,1133.2 L1054.6,1121.6 L1055.2,1116.6 L1057.2,1087.7 L1057.7,1078.7 L1059.4,1035.5 L1059.9,1024.7 L1061.6,981.4 L1061.9,972.4 L1063.1,943.6 L1063.5,934.2 L1065.8,888.1 L1066.5,875.1 L1069.0,817.5 L1069.7,803.1 L1072.6,745.4 L1073.2,732.8 L1075.2,689.5 L1075.8,682.3 L1078.1,667.9 L1078.7,668.6 L1081.0,688.8 L1081.5,696.0 L1083.5,733.5 L1084.0,745.4 L1086.1,803.1 L1086.6,817.5 L1088.9,875.1 L1089.4,888.1 L1091.1,934.2 L1091.5,945.4 L1093.0,988.6 L1093.4,999.5 L1095.1,1042.7 L1095.6,1053.5 L1098.2,1096.8 L1098.9,1107.6 L1101.5,1150.8 L1102.1,1160.5 L1104.1,1195.1 L1104.7,1202.0 L1107.6,1222.2 L1108.4,1223.6 L1112.1,1215.0 L1113.0,1209.9 L1115.9,1178.2 L1116.6,1168.8 L1119.5,1125.6 L1120.2,1114.8 L1123.1,1071.5 L1123.8,1058.9 L1126.7,1001.3 L1127.4,988.6 L1130.3,945.4 L1131.0,930.6 L1133.9,855.7 L1134.6,837.3 L1137.5,765.2 L1138.2,749.0 L1141.1,691.4 L1141.8,676.9 L1144.7,619.3 L1145.4,607.7 L1148.3,573.2 L1149.0,565.2 L1152.2,536.4 L1153.0,531.9 L1156.5,524.7 L1157.3,524.7 L1160.5,531.9 L1161.2,535.3 L1163.5,555.5 L1164.1,561.6 L1166.4,590.5 L1167.0,599.5 L1169.9,642.7 L1170.6,655.3 L1173.5,713.0 L1174.2,727.4 L1177.1,785.0 L1177.8,799.5 L1180.7,857.1 L1181.4,869.7 L1184.3,913.0 L1184.9,920.5 L1186.3,937.8 L1186.8,945.4 L1189.1,988.6 L1189.6,999.5 L1191.6,1042.7 L1192.3,1055.3 L1195.1,1113.0 L1195.9,1127.4 L1198.7,1185.0 L1199.5,1197.7 L1202.3,1240.9 L1203.1,1250.3 L1205.9,1282.0 L1206.7,1287.9 L1209.5,1303.8 L1210.3,1306.3 L1213.2,1310.6 L1213.9,1310.5 L1216.8,1304.7 L1217.5,1301.8 L1220.4,1284.5 L1221.3,1281.3 L1225.6,1272.6 L1226.7,1270.1 L1231.0,1258.6 L1232.1,1255.3 L1236.4,1240.9 L1237.3,1237.7 L1240.2,1226.1 L1240.9,1223.2 L1243.8,1211.7 L1244.5,1208.5 L1247.4,1194.1 L1248.1,1188.6 L1251.0,1159.8 L1251.7,1150.8 L1254.6,1107.6 L1255.3,1096.8 L1258.2,1053.5 L1259.0,1042.7 L1262.5,999.5 L1263.4,988.6 L1267.1,945.4 L1267.8,932.4 L1269.8,871.9 L1270.4,855.3 L1272.7,783.2 L1273.3,765.2 L1275.6,693.2 L1276.1,675.1 L1277.8,603.1 L1278.2,588.6 L1279.3,545.4 L1279.6,534.2 L1280.6,488.1 L1281.0,475.1 L1283.3,417.5 L1283.9,403.1 L1286.2,345.4 L1286.8,331.0 L1289.7,273.3 L1290.4,262.5 L1293.0,233.7 L1293.7,226.5 L1296.3,197.7 L1296.9,192.8 L1299.8,182.7 L1300.4,183.8 L1302.5,202.5 L1303.0,209.2 L1305.0,243.8 L1305.4,253.5 L1307.2,296.8 L1307.6,307.6 L1309.7,350.8 L1310.2,361.6 L1312.2,404.9 L1312.7,415.7 L1315.0,458.9 L1315.6,469.7 L1317.6,513.0 L1317.9,520.5 L1318.8,537.8 L1319.1,547.2 L1320.9,604.9 L1321.3,619.3 L1323.4,676.9 L1323.9,691.4 L1325.9,749.0 L1326.4,763.4 L1328.7,821.1 L1329.3,833.7 L1331.3,876.9 L1331.9,887.4 L1334.8,927.7 L1335.6,934.6 L1339.4,949.0 L1340.3,949.0 L1344.4,934.6 L1345.2,927.7 L1347.5,887.4 L1348.1,875.1 L1351.0,817.5 L1351.7,804.9 L1354.6,761.6 L1355.3,753.7 L1358.2,733.5 L1359.1,728.1 L1363.4,705.0 L1364.5,701.4 L1368.8,695.7 L1369.8,695.7 L1373.3,701.4 L1374.0,705.8 L1376.3,734.6 L1376.9,743.6 L1379.2,786.8 L1379.7,797.7 L1381.7,840.9 L1382.2,851.7 L1384.3,895.0 L1384.8,904.3 L1387.1,936.0 L1387.7,947.2 L1390.0,1004.9 L1390.5,1019.3 L1392.5,1076.9 L1393.0,1091.4 L1395.1,1149.0 L1395.6,1161.6 L1397.9,1204.9 L1398.5,1213.9 L1400.8,1242.7 L1401.5,1249.2 L1405.0,1272.3 L1405.9,1276.9 L1410.3,1291.4 L1411.4,1294.6 L1415.7,1306.1 L1416.6,1306.5 L1420.1,1297.8 L1421.0,1295.3 L1424.8,1283.8 L1425.8,1282.0 L1430.1,1279.1 L1431.2,1277.3 L1435.5,1265.8 L1436.4,1262.5 L1439.3,1248.1 L1440.0,1242.7 L1442.9,1213.9 L1443.5,1204.9 L1445.5,1161.6 L1446.1,1149.0 L1448.4,1091.4 L1448.9,1076.9 L1451.2,1019.3 L1451.8,1004.9 L1453.8,947.2 L1454.2,932.4 L1455.0,871.9 L1455.3,855.3 L1456.4,783.2 L1456.8,765.2 L1458.5,693.2 L1459.0,676.9 L1461.0,619.3 L1461.6,604.9 L1464.5,547.2 L1465.2,534.2 L1468.1,488.1 L1468.6,476.9 L1470.1,433.7 L1470.5,422.9 L1471.9,379.6 L1472.3,370.6 L1473.7,341.8 L1474.2,337.1 L1476.5,328.5 L1477.0,328.8 L1479.0,340.4 L1479.5,346.8 L1480.9,387.2 L1481.3,397.7 L1482.7,440.9 L1483.1,451.7 L1484.5,495.0 L1484.8,504.3 L1485.7,536.0 L1485.9,543.6 L1487.1,572.4 L1487.4,581.4 L1488.8,624.7 L1489.3,637.3 L1491.3,695.0 L1491.8,707.6 L1493.8,750.8 L1494.4,761.6 L1497.0,804.9 L1497.7,815.7 L1500.5,858.9 L1501.3,866.1 L1504.1,880.5 L1504.8,885.9 L1506.8,914.8 L1507.5,916.9 L1511.2,905.4 L1512.3,905.0 L1516.6,913.7 L1517.5,917.3 L1520.4,937.5 L1521.1,941.8 L1524.0,956.2 L1524.7,963.4 L1527.6,1006.7 L1528.2,1017.5 L1530.5,1060.7 L1531.2,1071.5 L1534.1,1114.8 L1534.8,1123.8 L1538.3,1152.6 L1539.2,1158.0 L1542.6,1172.4 L1543.5,1172.4 L1547.3,1158.0 L1548.1,1152.6 L1551.0,1123.8 L1551.7,1114.8 L1554.6,1071.5 L1555.3,1060.7 L1558.2,1017.5 L1558.9,1008.5 L1561.8,979.6 L1562.7,972.4 L1567.0,943.6 L1567.9,934.2 L1570.2,888.1 L1570.7,876.9 L1572.7,833.7 L1573.2,821.1 L1575.2,763.4 L1575.8,749.0 L1578.1,691.4 L1578.7,676.9 L1581.6,619.3 L1582.3,606.7 L1585.2,563.4 L1586.0,555.5 L1589.5,535.3 L1590.1,527.7 L1591.9,487.4 L1592.3,476.9 L1594.3,433.7 L1594.8,422.9 L1596.9,379.6 L1597.3,370.6 L1599.1,341.8 L1599.5,336.9 L1601.5,326.8 L1602.2,327.2 L1605.0,340.2 L1605.8,345.0 L1608.6,371.0 L1609.4,379.6 L1612.3,422.9 L1613.0,433.7 L1615.9,476.9 L1616.6,485.9 L1619.5,514.8 L1620.0,520.5 L1621.4,537.8 L1622.0,543.6 L1624.9,572.4 L1625.6,578.6 L1628.5,598.7 L1629.2,604.1 L1632.1,627.2 L1632.8,635.5 L1635.7,678.7 L1636.6,684.9 L1640.9,690.6 L1641.8,692.4 L1644.7,701.1 L1645.4,704.7 L1648.3,724.9 L1649.1,726.7 L1652.9,720.9 L1653.8,720.5 L1657.2,723.4 L1658.0,721.6 L1660.9,704.3 L1661.6,701.8 L1664.5,698.9 L1665.2,700.7 L1668.1,718.0 L1668.8,723.8 L1671.7,752.6 L1672.4,761.6 L1674.7,804.9 L1675.2,815.7 L1677.2,858.9 L1677.8,869.7 L1680.7,913.0 L1681.3,920.5 L1683.4,937.8 L1683.9,943.6 L1686.2,972.4 L1686.9,979.6 L1690.4,1008.5 L1691.3,1014.6 L1695.0,1034.8 L1695.7,1038.2 L1697.8,1045.4 L1698.4,1044.7 L1701.3,1031.7 L1701.9,1026.5 L1704.2,997.7 L1704.8,990.5 L1707.1,961.6 L1707.5,956.2 L1708.7,941.8 L1709.1,935.3 L1711.4,897.8 L1712.3,890.3 L1716.6,867.2 L1717.5,858.9 L1720.4,815.7 L1721.1,801.3 L1724.0,729.2 L1724.6,713.0 L1726.6,655.3 L1727.1,642.7 L1729.4,599.5 L1730.1,588.6 L1733.0,545.4 L1733.7,532.4 L1736.6,471.9 L1737.2,457.1 L1739.2,399.5 L1739.7,386.8 L1741.7,343.6 L1742.3,332.8 L1744.6,289.5 L1745.2,282.0 L1747.5,264.7 L1748.0,262.3 L1750.3,260.9 L1751.0,262.3 L1753.9,275.3 L1754.5,281.3 L1756.5,315.9 L1756.9,325.6 L1758.4,368.8 L1758.7,379.6 L1760.2,422.9 L1760.5,433.7 L1762.0,476.9 L1762.3,488.1 L1763.8,534.2 L1764.1,545.4 L1765.6,588.6 L1766.1,601.3 L1768.4,658.9 L1768.9,673.3 L1770.9,731.0 L1771.5,743.6 L1774.4,786.8 L1775.1,795.9 L1778.0,824.7 L1778.7,829.5 L1781.6,839.6 L1782.3,838.9 L1785.2,823.1 L1785.8,816.4 L1787.9,778.9 L1788.4,768.8 L1790.7,725.6 L1791.3,715.9 L1793.4,681.3 L1794.1,675.5 L1796.9,664.0 L1797.8,662.7 L1802.2,664.1 L1803.2,665.8 L1807.6,677.3 L1808.5,678.2 L1812.0,673.9 L1812.7,670.8 L1815.0,650.6 L1815.6,645.2 L1817.9,622.2 L1818.6,618.7 L1821.4,614.4 L1822.1,610.1 L1824.1,579.8 L1824.6,572.4 L1826.6,543.6 L1827.1,534.2 L1828.8,488.1 L1829.3,476.9 L1831.3,433.7 L1831.8,422.9 L1833.8,379.6 L1834.3,368.8 L1836.6,325.6 L1837.2,317.3 L1839.5,294.2 L1840.3,291.2 L1843.7,289.7 L1844.5,289.0 L1847.4,284.7 L1848.1,282.9 L1851.0,272.8 L1851.6,272.8 L1853.9,282.9 L1854.5,287.0 L1856.5,310.1 L1857.1,315.5 L1860.0,335.7 L1860.7,341.8 L1863.6,370.6 L1864.3,376.8 L1867.2,396.9 L1868.1,400.9 L1872.4,412.4 L1873.3,416.4 L1876.2,436.6 L1876.9,441.6 L1879.8,461.8 L1880.5,467.9 L1883.4,496.8 L1884.1,504.3 L1887.0,536.0 L1887.7,542.9 L1890.0,565.9 L1890.5,571.4 L1892.5,591.5 L1893.0,594.8 L1895.1,600.5 L1895.6,599.5 L1897.9,585.0 L1898.5,580.7 L1900.8,560.5 L1901.3,556.2 L1903.4,541.8 L1903.9,537.8 L1906.2,520.5 L1906.8,515.9 L1909.1,495.7 L1909.7,489.5 L1912.3,460.7 L1913.0,453.5 L1915.9,424.7 L1916.6,418.2 L1919.5,395.1 L1920.3,391.0 L1923.7,380.9 L1924.4,381.6 L1926.7,397.5 L1927.4,402.3 L1930.3,425.4 L1931.0,429.0 L1933.9,434.8 L1934.6,433.3 L1937.5,416.0 L1938.2,411.7 L1941.1,394.4 L1941.8,391.5 L1944.7,385.8 L1945.4,387.6 L1948.3,407.7 L1949.0,413.9 L1951.9,442.7 L1952.6,449.9 L1955.5,478.7 L1956.1,485.9 L1958.5,514.8 L1958.9,522.3 L1960.0,554.1 L1960.3,561.6 L1961.5,590.5 L1961.9,601.3 L1963.9,658.9 L1964.4,673.3 L1966.7,731.0 L1967.4,743.6 L1969.9,786.8 L1970.6,797.7 L1973.5,840.9 L1974.2,849.5 L1977.1,875.5 L1977.8,879.8 L1980.1,888.5 L1980.7,888.5 L1983.6,879.8 L1984.3,875.5 L1987.2,849.5 L1987.9,840.9 L1990.8,797.7 L1991.5,786.8 L1994.4,743.6 L1995.1,732.8 L1998.0,689.5 L1998.7,678.7 L2001.6,635.5 L2002.3,624.7 L2005.2,581.4 L2005.9,573.2 L2008.8,550.1 L2009.6,545.8 L2013.1,534.2 L2013.9,535.3 L2016.8,555.5 L2017.5,563.4 L2020.4,606.7 L2021.1,619.3 L2024.0,676.9 L2024.7,691.4 L2027.6,749.0 L2028.3,763.4 L2031.2,821.1 L2031.9,833.7 L2034.8,876.9 L2035.4,888.1 L2037.7,934.2 L2038.3,943.6 L2040.6,972.4 L2041.1,978.0 L2042.5,993.9 L2042.9,993.9 L2044.6,978.0 L2045.2,972.4 L2047.8,943.6 L2048.4,937.8 L2050.7,920.5 L2051.5,914.8 L2055.5,885.9 L2056.3,876.9 L2058.3,833.7 L2058.8,821.1 L2060.8,763.4 L2061.4,749.0 L2063.7,691.4 L2064.3,676.9 L2066.6,619.3 L2067.2,604.9 L2070.1,547.2 L2070.9,535.3 L2074.3,497.8 L2075.1,489.2 L2078.0,457.5 L2078.8,451.5 L2082.3,435.7 L2083.1,435.7 L2085.9,451.5 L2086.7,456.4 L2089.5,479.5 L2090.3,485.9 L2093.2,514.8 L2093.8,522.3 L2095.8,554.1 L2096.2,563.4 L2097.3,606.7 L2097.7,619.3 L2099.7,676.9 L2100.3,691.4 L2102.6,749.0 L2103.1,763.4 L2105.2,821.1 L2105.7,835.5 L2107.7,893.2 L2108.1,904.3 L2109.9,936.0 L2110.3,945.4 L2112.4,988.6 L2112.9,999.5 L2114.9,1042.7 L2115.4,1051.7 L2117.1,1080.5 L2117.4,1085.9 L2118.6,1100.4 L2118.7,1102.2" fill="none" stroke="#BF2499" stroke-width="11.2" stroke-linejoin="round" stroke-linecap="round"/>
</g>
<ellipse cx="1695.5" cy="659.8" rx="109" ry="494.6" fill="none" stroke="#FFFF00" stroke-width="4.4"/>
<line x1="271" y1="85.6" x2="321" y2="85.6" stroke="#FF7528" stroke-width="10.8" stroke-linecap="round"/>
<line x1="271" y1="177.3" x2="321" y2="177.3" stroke="#BF2499" stroke-width="10.8" stroke-linecap="round"/>
<text x="327" y="99.3" font-size="48.7" class="lg" textLength="369" lengthAdjust="spacingAndGlyphs">Zn concentration</text>
<text x="332.5" y="192.4" font-size="48.7" class="lg" textLength="361.5" lengthAdjust="spacingAndGlyphs">Fe concentration</text>
<text x="164.5" y="1484.7" font-size="38.6" class="tk" text-anchor="end">20</text>
<text x="164.5" y="1326.5" font-size="38.6" class="tk" text-anchor="end">30</text>
<text x="164.5" y="1168.4" font-size="38.6" class="tk" text-anchor="end">40</text>
<text x="164.5" y="1010.2" font-size="38.6" class="tk" text-anchor="end">50</text>
<text x="164.5" y="852.0" font-size="38.6" class="tk" text-anchor="end">60</text>
<text x="164.5" y="693.9" font-size="38.6" class="tk" text-anchor="end">70</text>
<text x="164.5" y="535.7" font-size="38.6" class="tk" text-anchor="end">80</text>
<text x="164.5" y="377.5" font-size="38.6" class="tk" text-anchor="end">90</text>
<text x="164.5" y="219.4" font-size="38.6" class="tk" text-anchor="end">100</text>
<text x="164.5" y="61.2" font-size="38.6" class="tk" text-anchor="end">110</text>
<text x="2160.5" y="61.2" font-size="37.6" class="tk">1.4</text>
<text x="2160.5" y="264.6" font-size="37.6" class="tk">1.2</text>
<text x="2160.5" y="467.9" font-size="37.6" class="tk">1</text>
<text x="2160.5" y="671.3" font-size="37.6" class="tk">0.8</text>
<text x="2160.5" y="874.6" font-size="37.6" class="tk">0.6</text>
<text x="2160.5" y="1078.0" font-size="37.6" class="tk">0.4</text>
<text x="2160.5" y="1281.3" font-size="37.6" class="tk">0.2</text>
<text x="2160.5" y="1484.7" font-size="37.6" class="tk">0</text>
<text x="205.4" y="1540.8" font-size="37.4" class="tk" text-anchor="middle">0</text>
<text x="396.8" y="1540.8" font-size="37.4" class="tk" text-anchor="middle">200</text>
<text x="588.2" y="1540.8" font-size="37.4" class="tk" text-anchor="middle">400</text>
<text x="779.6" y="1540.8" font-size="37.4" class="tk" text-anchor="middle">600</text>
<text x="971.0" y="1540.8" font-size="37.4" class="tk" text-anchor="middle">800</text>
<text x="1162.4" y="1540.8" font-size="37.4" class="tk" text-anchor="middle">1000</text>
<text x="1353.8" y="1540.8" font-size="37.4" class="tk" text-anchor="middle">1200</text>
<text x="1545.2" y="1540.8" font-size="37.4" class="tk" text-anchor="middle">1400</text>
<text x="1736.6" y="1540.8" font-size="37.4" class="tk" text-anchor="middle">1600</text>
<text x="1928.0" y="1540.8" font-size="37.4" class="tk" text-anchor="middle">1800</text>
<text x="2119.4" y="1540.8" font-size="37.4" class="tk" text-anchor="middle">2000</text>
<text x="44.9" y="136.9" font-size="69.5" class="bk" textLength="88.5" lengthAdjust="spacingAndGlyphs">(a)</text>
<text x="1345" y="87.4" font-size="44.5" class="bk" textLength="731" lengthAdjust="spacingAndGlyphs">Measurement taken along green line</text>
<text x="1527.4" y="1231.2" font-size="41" class="bk" textLength="518" lengthAdjust="spacingAndGlyphs">Deviation between Fe and</text>
<text x="1536" y="1291.4" font-size="41" class="bk" textLength="367" lengthAdjust="spacingAndGlyphs">Zn concentrations</text>
<text x="691" y="1448.2" font-size="58.6" class="tk" textLength="1042" lengthAdjust="spacingAndGlyphs">Distance along measurement line (µm)</text>
<text transform="translate(108.1 956.5) rotate(-90)" x="0" y="0" font-size="62.5" class="tk" textLength="236.5" lengthAdjust="spacingAndGlyphs">At % (Zn)</text>
<text transform="translate(2283.3 929.4) rotate(-90)" x="0" y="0" font-size="62.5" class="tk" textLength="226.5" lengthAdjust="spacingAndGlyphs">At % (Fe)</text>
</g>
<g id="panel-b">
<rect x="19.5" y="1560.8" width="2302.3" height="1537.6" fill="#fff" stroke="#E4E4E4" stroke-width="1.8"/>
<use href="#sem" x="218.8" y="1877.7" width="2042.7" height="851.8999999999999"/>
<line x1="218.8" y1="2318.6" x2="2261.5" y2="2324.8" stroke="#00E000" stroke-width="2.6"/>
<g stroke="#CFCFCF" stroke-width="2.2" fill="none">
<line x1="218.8" y1="1593.4" x2="218.8" y2="3014.5"/>
<line x1="218.8" y1="3014.5" x2="2261.5" y2="3014.5"/>
<line x1="203.8" y1="3014.5" x2="218.8" y2="3014.5"/>
<line x1="203.8" y1="2811.5" x2="218.8" y2="2811.5"/>
<line x1="203.8" y1="2608.5" x2="218.8" y2="2608.5"/>
<line x1="203.8" y1="2405.5" x2="218.8" y2="2405.5"/>
<line x1="203.8" y1="2202.4" x2="218.8" y2="2202.4"/>
<line x1="203.8" y1="1999.4" x2="218.8" y2="1999.4"/>
<line x1="203.8" y1="1796.4" x2="218.8" y2="1796.4"/>
<line x1="203.8" y1="1593.4" x2="218.8" y2="1593.4"/>
<line x1="218.8" y1="3014.5" x2="218.8" y2="3028.5"/>
<line x1="423.1" y1="3014.5" x2="423.1" y2="3028.5"/>
<line x1="627.3" y1="3014.5" x2="627.3" y2="3028.5"/>
<line x1="831.6" y1="3014.5" x2="831.6" y2="3028.5"/>
<line x1="1035.9" y1="3014.5" x2="1035.9" y2="3028.5"/>
<line x1="1240.2" y1="3014.5" x2="1240.2" y2="3028.5"/>
<line x1="1444.4" y1="3014.5" x2="1444.4" y2="3028.5"/>
<line x1="1648.7" y1="3014.5" x2="1648.7" y2="3028.5"/>
<line x1="1853.0" y1="3014.5" x2="1853.0" y2="3028.5"/>
<line x1="2057.2" y1="3014.5" x2="2057.2" y2="3028.5"/>
<line x1="2261.5" y1="3014.5" x2="2261.5" y2="3028.5"/>
</g>
<path clip-path="url(#clipB)" d="M234.2,1838.2 L234.6,1837.5 L237.5,1831.7 L238.2,1830.6 L241.1,1827.8 L241.8,1828.1 L244.7,1833.9 L245.2,1836.6 L246.7,1852.4 L247.0,1855.9 L248.5,1867.4 L248.9,1875.0 L251.2,1924.0 L251.8,1937.3 L253.8,1995.0 L254.3,2009.4 L256.3,2067.1 L256.8,2081.8 L258.5,2142.4 L259.0,2157.1 L261.0,2214.8 L261.6,2229.2 L264.5,2286.9 L265.2,2299.5 L268.1,2342.7 L268.8,2353.6 L271.7,2396.8 L272.6,2404.9 L276.9,2426.5 L278.0,2426.5 L282.3,2404.9 L283.4,2395.0 L287.7,2337.3 L288.6,2326.5 L291.5,2297.7 L292.3,2288.7 L295.1,2245.4 L295.9,2234.6 L298.7,2191.4 L299.4,2182.4 L301.7,2153.5 L302.4,2142.4 L305.9,2081.8 L306.7,2067.1 L309.5,2009.4 L310.3,1995.0 L313.2,1937.3 L313.8,1926.5 L315.8,1897.7 L316.5,1892.4 L320.3,1879.5 L321.3,1880.2 L325.6,1898.9 L326.7,1902.7 L331.0,1914.2 L332.1,1916.6 L336.4,1923.8 L337.7,1923.1 L343.4,1910.1 L344.7,1905.2 L349.0,1879.3 L350.1,1877.8 L354.4,1892.3 L355.5,1897.7 L359.8,1926.5 L360.7,1935.5 L363.6,1978.8 L364.2,1989.6 L366.2,2032.8 L366.8,2045.4 L369.1,2103.1 L369.5,2114.3 L371.0,2146.0 L371.4,2157.1 L372.8,2214.8 L373.3,2229.2 L376.2,2286.9 L376.9,2301.3 L379.8,2359.0 L380.7,2372.7 L385.0,2424.6 L386.1,2432.8 L390.5,2447.3 L391.7,2450.1 L397.5,2458.8 L398.9,2462.0 L404.7,2479.3 L406.1,2482.9 L411.9,2494.5 L413.2,2497.4 L417.5,2508.9 L418.6,2512.8 L422.9,2533.0 L424.0,2533.0 L428.3,2512.8 L429.4,2508.2 L433.7,2490.9 L434.8,2486.5 L439.1,2469.2 L440.2,2466.2 L444.5,2459.0 L445.4,2459.7 L448.3,2472.7 L448.8,2476.4 L450.3,2493.7 L451.2,2496.1 L456.9,2497.5 L458.0,2499.0 L460.9,2509.1 L461.6,2512.5 L464.5,2529.8 L465.2,2536.4 L468.1,2571.7 L468.8,2579.7 L471.7,2608.5 L472.4,2615.7 L475.3,2644.6 L476.0,2650.7 L478.9,2670.9 L479.8,2675.9 L484.1,2696.1 L485.2,2700.1 L489.5,2711.6 L490.5,2715.6 L493.3,2735.7 L494.1,2741.9 L496.9,2770.7 L497.7,2776.5 L500.5,2793.8 L501.8,2796.1 L509.0,2797.6 L510.8,2797.9 L518.0,2799.4 L519.5,2801.0 L523.8,2812.5 L525.0,2815.0 L530.8,2823.7 L532.4,2825.1 L539.6,2828.0 L541.3,2828.0 L547.0,2825.1 L548.3,2823.7 L552.6,2815.0 L553.7,2811.4 L558.0,2791.2 L558.9,2785.5 L561.8,2759.5 L562.5,2752.7 L565.4,2723.9 L566.0,2714.8 L568.0,2671.6 L568.6,2659.0 L570.9,2601.3 L571.5,2586.9 L573.8,2529.2 L574.3,2516.6 L576.3,2473.4 L576.9,2457.8 L579.8,2376.4 L580.5,2355.4 L583.4,2268.9 L584.1,2250.8 L587.0,2193.2 L587.6,2182.4 L589.7,2153.5 L590.2,2146.0 L592.5,2114.3 L593.2,2103.1 L596.0,2045.4 L596.8,2032.8 L599.6,1989.6 L600.5,1980.2 L604.9,1948.5 L606.3,1942.7 L613.5,1928.3 L615.0,1927.9 L619.3,1939.5 L620.4,1941.3 L624.7,1944.2 L625.9,1943.4 L631.7,1934.8 L633.2,1932.3 L638.9,1920.7 L640.7,1918.2 L649.4,1909.6 L651.4,1908.1 L658.6,1905.2 L660.2,1903.4 L665.9,1891.9 L667.2,1892.6 L671.5,1909.9 L672.8,1913.5 L678.6,1925.1 L680.0,1925.8 L685.8,1920.0 L687.2,1916.2 L693.0,1891.7 L694.4,1889.2 L700.2,1893.5 L701.4,1895.9 L705.8,1910.3 L706.8,1915.7 L711.2,1944.5 L712.3,1952.8 L716.6,1990.3 L717.7,1998.6 L722.0,2027.4 L723.2,2032.3 L729.0,2042.4 L730.3,2043.4 L734.6,2042.0 L735.5,2038.6 L738.4,2012.6 L739.3,2008.7 L743.6,2002.9 L744.7,1996.8 L749.0,1953.5 L750.1,1945.6 L754.4,1925.4 L755.5,1916.4 L759.8,1864.5 L761.0,1853.2 L765.9,1814.2 L767.0,1811.2 L770.7,1825.6 L771.7,1828.5 L776.0,1837.1 L776.9,1840.2 L779.8,1856.0 L780.5,1863.4 L783.4,1906.7 L784.1,1921.1 L787.0,1993.2 L787.9,2013.0 L792.3,2099.5 L793.2,2114.3 L796.0,2146.0 L797.0,2155.3 L802.1,2198.6 L803.1,2211.2 L805.9,2268.9 L806.7,2281.5 L809.5,2324.7 L810.3,2337.3 L813.2,2395.0 L813.9,2409.4 L816.8,2467.1 L817.5,2481.9 L820.4,2542.4 L821.1,2554.4 L824.0,2589.7 L824.8,2599.5 L828.5,2642.8 L829.4,2652.9 L832.9,2690.3 L833.9,2697.9 L838.2,2721.0 L839.4,2725.3 L844.6,2736.8 L845.8,2737.2 L850.1,2728.5 L851.0,2724.9 L853.9,2704.8 L854.5,2698.6 L856.5,2669.8 L857.0,2661.9 L859.0,2627.3 L859.6,2618.3 L861.9,2580.8 L862.5,2571.8 L864.8,2537.2 L865.3,2530.0 L867.3,2506.9 L867.9,2503.3 L870.8,2497.5 L871.7,2499.0 L876.0,2516.3 L877.1,2519.9 L881.4,2531.4 L882.5,2533.1 L886.8,2535.4 L887.8,2533.6 L891.3,2516.9 L892.4,2509.0 L897.5,2462.1 L898.7,2450.9 L903.1,2407.6 L904.1,2399.3 L907.8,2376.3 L908.8,2372.5 L912.8,2365.3 L913.8,2366.0 L917.5,2379.0 L918.4,2382.7 L921.3,2400.0 L922.1,2403.5 L925.8,2413.6 L926.7,2413.6 L930.2,2403.5 L930.9,2398.6 L933.2,2369.8 L933.8,2360.8 L935.8,2317.5 L936.3,2306.7 L938.3,2263.5 L938.8,2252.6 L941.2,2209.4 L941.8,2198.6 L944.7,2155.3 L945.4,2144.2 L948.3,2098.0 L949.0,2085.1 L951.9,2027.4 L952.6,2014.8 L955.5,1971.5 L956.2,1961.8 L959.1,1927.2 L960.0,1919.3 L964.3,1890.5 L965.4,1888.7 L969.7,1903.1 L970.8,1908.5 L975.1,1937.3 L976.2,1944.2 L980.5,1970.1 L981.4,1973.7 L984.3,1976.6 L985.2,1974.8 L989.5,1957.5 L990.6,1952.1 L995.0,1926.1 L995.9,1922.2 L998.7,1916.4 L999.6,1916.0 L1004.0,1918.9 L1005.2,1918.0 L1011.0,1907.9 L1012.3,1909.0 L1016.6,1927.8 L1017.7,1932.6 L1022.0,1952.8 L1023.2,1956.6 L1029.0,1966.7 L1030.3,1965.6 L1034.6,1946.9 L1035.7,1941.3 L1040.0,1915.3 L1041.1,1908.5 L1045.4,1879.6 L1046.5,1874.2 L1050.8,1859.8 L1051.8,1856.9 L1055.6,1848.3 L1056.5,1848.7 L1059.9,1860.2 L1060.9,1862.7 L1065.2,1871.4 L1066.2,1873.3 L1070.0,1880.6 L1070.9,1879.1 L1074.3,1860.4 L1075.1,1853.7 L1078.0,1819.1 L1078.7,1811.5 L1081.6,1785.6 L1082.3,1781.3 L1084.6,1772.6 L1085.2,1773.0 L1088.1,1784.5 L1088.7,1789.6 L1090.7,1818.4 L1091.2,1827.4 L1092.6,1870.6 L1093.0,1883.3 L1094.4,1940.9 L1094.8,1957.1 L1096.2,2029.2 L1096.6,2045.4 L1098.0,2103.1 L1098.2,2117.9 L1098.5,2178.4 L1098.7,2193.2 L1099.9,2250.8 L1100.2,2268.9 L1101.9,2355.4 L1102.4,2377.0 L1104.1,2463.5 L1104.5,2481.9 L1106.3,2542.4 L1106.7,2554.4 L1108.8,2589.7 L1109.4,2600.6 L1112.3,2652.5 L1113.0,2662.9 L1115.9,2694.7 L1116.5,2699.9 L1118.8,2710.0 L1119.4,2710.0 L1122.0,2699.9 L1122.7,2693.9 L1125.6,2656.5 L1126.2,2646.0 L1128.5,2599.9 L1129.1,2588.7 L1131.4,2545.5 L1132.1,2529.9 L1135.0,2448.4 L1135.6,2423.8 L1137.6,2308.5 L1138.1,2279.7 L1140.1,2164.4 L1140.6,2144.2 L1142.3,2098.0 L1142.8,2086.9 L1144.8,2043.6 L1145.3,2036.6 L1147.6,2023.6 L1148.3,2023.6 L1150.8,2036.6 L1151.4,2043.6 L1153.1,2086.9 L1153.5,2098.0 L1154.6,2144.2 L1154.9,2160.8 L1156.1,2247.2 L1156.4,2272.5 L1158.2,2387.8 L1158.7,2417.0 L1161.0,2535.2 L1161.4,2551.9 L1162.9,2567.0 L1163.4,2573.6 L1166.3,2611.1 L1167.0,2618.3 L1169.9,2638.4 L1170.7,2641.9 L1174.2,2649.1 L1175.0,2648.7 L1178.2,2638.6 L1178.9,2633.8 L1181.8,2604.9 L1182.5,2595.9 L1185.4,2552.7 L1186.4,2536.4 L1191.3,2449.1 L1192.3,2427.4 L1195.1,2340.9 L1195.7,2319.3 L1197.8,2232.8 L1198.3,2214.8 L1200.6,2157.1 L1201.0,2142.4 L1201.5,2081.8 L1201.9,2065.2 L1204.2,1993.2 L1204.8,1975.2 L1207.1,1903.1 L1207.6,1886.9 L1209.7,1829.2 L1210.3,1819.5 L1213.2,1799.3 L1213.8,1796.4 L1215.8,1793.5 L1216.5,1794.6 L1220.3,1806.1 L1221.1,1808.5 L1224.0,1815.7 L1224.6,1818.9 L1226.6,1837.7 L1227.1,1844.7 L1229.4,1882.2 L1230.0,1891.2 L1232.3,1925.8 L1232.9,1931.7 L1234.9,1944.7 L1235.7,1946.7 L1240.0,1949.6 L1240.9,1952.3 L1243.8,1971.0 L1244.5,1978.0 L1247.4,2015.5 L1248.1,2025.6 L1251.0,2068.9 L1251.7,2079.7 L1254.6,2122.9 L1255.1,2134.1 L1256.3,2180.2 L1256.6,2191.4 L1258.0,2234.6 L1258.5,2249.0 L1260.5,2321.1 L1261.0,2339.1 L1263.6,2411.2 L1264.3,2427.4 L1267.2,2485.1 L1267.9,2498.1 L1270.8,2544.2 L1271.4,2554.4 L1272.8,2589.7 L1273.3,2601.3 L1276.2,2659.0 L1276.9,2672.0 L1279.8,2718.1 L1280.5,2728.2 L1283.4,2762.8 L1284.3,2768.9 L1288.6,2783.3 L1289.7,2786.0 L1293.9,2793.2 L1294.9,2794.3 L1298.6,2795.8 L1299.6,2795.2 L1303.3,2789.4 L1304.1,2785.5 L1307.0,2759.5 L1307.6,2750.9 L1309.7,2707.6 L1310.2,2696.8 L1312.2,2653.6 L1312.7,2642.8 L1315.0,2599.5 L1315.9,2588.7 L1320.2,2545.5 L1321.3,2537.1 L1325.6,2513.3 L1326.7,2504.9 L1331.0,2461.7 L1331.9,2450.9 L1334.8,2407.6 L1335.7,2397.5 L1340.0,2360.0 L1341.1,2351.0 L1345.4,2316.4 L1346.5,2306.7 L1350.8,2263.5 L1351.7,2252.6 L1354.6,2209.4 L1355.3,2198.6 L1358.2,2155.3 L1358.7,2144.2 L1360.2,2098.0 L1360.7,2087.6 L1363.6,2050.1 L1364.5,2044.0 L1368.8,2032.5 L1369.9,2028.1 L1374.2,2005.1 L1375.1,1999.3 L1378.0,1976.2 L1378.7,1971.9 L1381.6,1960.4 L1382.3,1956.8 L1385.2,1939.5 L1385.9,1934.8 L1388.8,1914.6 L1389.5,1911.2 L1391.8,1904.0 L1392.5,1905.8 L1396.0,1927.4 L1396.8,1933.7 L1399.6,1962.5 L1400.4,1969.7 L1403.2,1998.6 L1404.0,2005.8 L1406.8,2034.6 L1407.6,2040.7 L1410.5,2060.9 L1411.2,2064.0 L1414.1,2068.3 L1414.8,2067.6 L1417.7,2057.5 L1418.4,2053.4 L1421.3,2030.3 L1422.0,2025.2 L1424.9,2007.9 L1425.5,2005.6 L1427.5,2004.2 L1428.1,2006.3 L1431.0,2025.1 L1431.6,2030.3 L1433.9,2053.4 L1434.6,2059.8 L1437.5,2088.7 L1438.2,2095.9 L1441.1,2124.7 L1441.7,2132.3 L1443.4,2164.0 L1443.7,2171.6 L1444.9,2200.4 L1445.3,2211.2 L1447.3,2268.9 L1447.9,2281.5 L1450.2,2324.7 L1450.8,2335.5 L1453.7,2378.8 L1454.3,2387.4 L1456.3,2413.4 L1457.0,2416.8 L1460.8,2418.2 L1461.7,2416.8 L1465.5,2403.8 L1466.3,2404.4 L1469.2,2421.7 L1470.0,2428.9 L1473.4,2469.2 L1474.2,2479.7 L1477.1,2522.9 L1477.8,2533.1 L1480.1,2571.3 L1480.8,2583.3 L1484.3,2641.0 L1485.0,2653.6 L1487.9,2696.8 L1488.6,2705.5 L1491.5,2731.4 L1492.4,2735.2 L1496.8,2739.5 L1498.2,2740.3 L1505.4,2741.7 L1506.7,2740.1 L1509.5,2725.7 L1510.3,2719.9 L1513.2,2688.2 L1513.9,2678.8 L1516.8,2635.6 L1517.5,2624.7 L1520.4,2581.5 L1521.1,2570.7 L1524.0,2527.4 L1524.5,2517.3 L1525.9,2479.1 L1526.5,2467.1 L1529.4,2409.4 L1530.2,2395.0 L1533.9,2337.3 L1534.8,2324.7 L1538.3,2281.5 L1539.3,2268.9 L1543.6,2211.2 L1544.6,2198.6 L1548.4,2155.3 L1549.0,2144.2 L1550.1,2098.0 L1550.6,2086.9 L1552.9,2043.6 L1553.4,2035.0 L1555.7,2009.0 L1556.4,2004.9 L1559.3,1997.7 L1560.1,1998.0 L1563.5,2008.1 L1564.3,2012.3 L1567.2,2035.3 L1567.9,2041.8 L1570.8,2070.7 L1571.5,2077.9 L1574.4,2106.7 L1575.1,2114.3 L1577.4,2146.0 L1577.8,2155.3 L1579.3,2198.6 L1579.7,2211.2 L1582.1,2268.9 L1582.7,2283.3 L1585.3,2340.9 L1585.9,2355.4 L1588.8,2413.0 L1589.5,2424.9 L1592.4,2462.4 L1593.2,2470.0 L1596.0,2493.0 L1597.1,2497.4 L1602.9,2508.9 L1604.1,2508.9 L1608.5,2497.4 L1609.5,2493.0 L1613.9,2470.0 L1614.9,2466.2 L1618.6,2459.0 L1619.6,2459.7 L1624.0,2472.7 L1624.9,2476.8 L1628.4,2497.0 L1629.5,2501.3 L1635.3,2515.7 L1636.6,2516.1 L1640.9,2504.6 L1642.0,2500.6 L1646.3,2480.4 L1647.4,2476.8 L1651.7,2468.2 L1652.8,2466.4 L1657.1,2460.6 L1658.0,2455.9 L1660.9,2424.2 L1661.6,2414.8 L1664.5,2371.6 L1665.2,2359.0 L1668.1,2301.3 L1668.8,2286.9 L1671.7,2229.2 L1672.5,2214.8 L1676.0,2157.1 L1676.6,2142.4 L1678.3,2081.8 L1678.8,2067.1 L1680.8,2009.4 L1681.4,1997.9 L1684.3,1963.3 L1685.0,1957.5 L1687.9,1946.0 L1688.8,1944.2 L1692.5,1941.3 L1693.3,1943.4 L1696.2,1963.6 L1696.9,1968.7 L1699.8,1988.8 L1700.6,1990.3 L1704.1,1981.6 L1704.9,1976.2 L1707.7,1941.6 L1708.5,1932.3 L1711.4,1891.9 L1712.1,1883.3 L1715.0,1854.4 L1715.7,1850.3 L1718.6,1846.0 L1719.3,1847.8 L1722.2,1866.5 L1722.8,1873.2 L1725.1,1907.8 L1725.8,1917.5 L1728.6,1960.7 L1729.3,1971.5 L1731.6,2014.8 L1732.1,2025.6 L1733.8,2068.9 L1734.2,2079.7 L1735.7,2122.9 L1735.9,2130.5 L1736.0,2147.8 L1736.3,2155.3 L1738.3,2198.6 L1738.9,2210.1 L1741.5,2259.1 L1742.2,2269.9 L1745.0,2307.4 L1745.8,2314.6 L1748.6,2334.8 L1749.4,2335.2 L1752.9,2317.9 L1753.7,2311.2 L1756.6,2275.2 L1757.3,2265.1 L1760.2,2220.4 L1760.9,2208.3 L1764.1,2156.4 L1764.6,2144.2 L1765.2,2098.0 L1765.5,2085.1 L1768.1,2027.4 L1768.8,2014.8 L1771.7,1971.5 L1772.5,1963.6 L1776.0,1943.4 L1776.9,1940.4 L1780.6,1936.1 L1781.5,1936.6 L1785.3,1945.2 L1786.2,1946.1 L1789.7,1944.7 L1790.4,1942.0 L1792.7,1921.8 L1793.4,1917.9 L1796.9,1906.3 L1797.7,1904.5 L1801.2,1901.6 L1802.1,1901.1 L1805.8,1899.7 L1806.7,1901.1 L1809.5,1914.1 L1810.3,1917.1 L1813.2,1928.7 L1813.8,1931.9 L1815.8,1946.3 L1816.5,1948.3 L1820.3,1949.7 L1821.1,1947.9 L1824.0,1932.1 L1824.6,1929.9 L1826.6,1928.5 L1827.2,1929.6 L1830.1,1939.7 L1830.8,1942.0 L1833.7,1950.6 L1834.3,1953.2 L1836.6,1964.7 L1837.2,1969.0 L1839.5,1992.1 L1840.2,1997.1 L1843.1,2014.4 L1843.9,2017.7 L1847.3,2026.3 L1848.1,2029.6 L1851.0,2046.9 L1851.7,2051.6 L1854.6,2071.7 L1855.2,2077.9 L1857.5,2106.7 L1858.1,2114.3 L1860.1,2146.0 L1860.6,2153.5 L1862.6,2182.4 L1863.2,2188.5 L1866.1,2208.7 L1867.0,2212.6 L1870.7,2224.2 L1871.8,2226.2 L1876.7,2230.5 L1877.6,2233.0 L1879.9,2248.9 L1880.5,2254.5 L1883.4,2283.3 L1884.1,2290.5 L1887.0,2319.3 L1887.7,2325.8 L1890.6,2348.9 L1891.5,2353.2 L1895.2,2364.7 L1896.1,2364.7 L1899.6,2353.2 L1900.4,2349.6 L1903.2,2332.3 L1904.1,2329.1 L1907.8,2320.4 L1908.7,2319.9 L1912.2,2324.2 L1913.2,2325.1 L1917.5,2328.0 L1918.4,2326.7 L1921.3,2313.7 L1922.0,2308.5 L1924.9,2279.7 L1925.6,2271.7 L1928.5,2237.2 L1929.2,2228.1 L1932.1,2190.7 L1932.8,2182.4 L1935.7,2153.5 L1936.3,2144.2 L1938.3,2098.0 L1938.8,2086.9 L1941.2,2043.6 L1941.8,2034.6 L1944.7,2005.8 L1945.4,2000.7 L1948.3,1989.2 L1948.9,1987.6 L1951.2,1986.1 L1951.9,1988.3 L1954.8,2007.0 L1955.5,2011.2 L1958.4,2025.6 L1959.2,2026.0 L1962.6,2014.4 L1963.6,2013.4 L1967.9,2016.2 L1969.0,2015.9 L1973.3,2010.1 L1974.2,2009.0 L1977.1,2006.1 L1978.0,2007.6 L1982.3,2022.0 L1983.4,2021.6 L1987.7,2004.3 L1988.8,2000.7 L1993.2,1989.2 L1994.4,1987.4 L2000.2,1984.5 L2001.4,1985.2 L2005.8,1993.9 L2006.7,1997.1 L2010.2,2014.4 L2011.1,2018.2 L2014.8,2031.2 L2015.9,2031.2 L2020.2,2018.2 L2021.1,2016.2 L2024.0,2013.4 L2024.7,2014.4 L2027.6,2026.0 L2028.5,2026.7 L2032.8,2020.9 L2033.9,2021.6 L2038.2,2033.2 L2039.3,2035.0 L2043.6,2037.9 L2044.7,2038.6 L2049.0,2041.5 L2050.1,2043.3 L2054.4,2054.8 L2055.5,2057.3 L2059.8,2066.0 L2060.9,2065.2 L2065.2,2050.8 L2066.3,2046.5 L2070.6,2026.3 L2071.7,2022.4 L2076.0,2010.8 L2077.1,2008.7 L2081.4,2002.9 L2082.7,2001.8 L2088.5,1998.9 L2089.7,1997.9 L2094.1,1992.1 L2095.0,1990.3 L2097.8,1981.6 L2098.7,1981.3 L2103.1,1987.0 L2104.1,1988.1 L2108.5,1991.0 L2109.5,1989.6 L2113.9,1975.2 L2115.0,1972.1 L2119.3,1962.0 L2120.4,1961.6 L2124.7,1968.8 L2125.8,1972.3 L2130.1,1992.5 L2131.0,1997.1 L2133.9,2014.4 L2134.7,2017.3 L2138.5,2023.1 L2139.5,2022.7 L2144.4,2014.1 L2145.6,2011.2 L2149.9,1996.8 L2151.0,1994.6 L2155.3,1991.7 L2156.4,1991.0 L2160.7,1988.1 L2161.8,1987.0 L2166.1,1981.3 L2167.2,1980.6 L2171.5,1980.6 L2172.6,1979.1 L2176.9,1967.6 L2178.0,1966.5 L2182.3,1969.4 L2183.6,1969.4 L2189.4,1966.5 L2190.8,1966.3 L2196.6,1967.8 L2198.0,1968.5 L2203.8,1972.8 L2205.0,1975.5 L2209.4,1992.8 L2210.5,1994.6 L2214.8,1991.7 L2215.9,1992.5 L2220.2,2001.1 L2221.2,2000.7 L2224.9,1989.2 L2225.8,1985.6 L2228.6,1968.3 L2229.4,1968.3 L2232.9,1985.6 L2233.9,1986.3 L2238.2,1974.8 L2239.3,1972.3 L2243.6,1963.6 L2244.6,1960.0 L2248.0,1939.8 L2248.8,1933.7 L2251.7,1904.9 L2252.4,1899.8 L2255.3,1888.3 L2256.0,1888.7 L2258.3,1903.1 L2258.7,1908.1 L2260.2,1934.1 L2260.5,1939.5 L2261.3,1956.8 L2261.4,1958.9" fill="none" stroke="#FF7528" stroke-width="11.8" stroke-linejoin="round" stroke-linecap="round"/>
<text x="173" y="3027.4" font-size="44" class="tk" text-anchor="end">40</text>
<text x="173" y="2824.4" font-size="44" class="tk" text-anchor="end">50</text>
<text x="173" y="2621.4" font-size="44" class="tk" text-anchor="end">60</text>
<text x="173" y="2418.4" font-size="44" class="tk" text-anchor="end">70</text>
<text x="173" y="2215.3" font-size="44" class="tk" text-anchor="end">80</text>
<text x="173" y="2012.3" font-size="44" class="tk" text-anchor="end">90</text>
<text x="173" y="1809.3" font-size="44" class="tk" text-anchor="end">100</text>
<text x="173" y="1606.3" font-size="44" class="tk" text-anchor="end">110</text>
<text x="218.8" y="3082.8" font-size="38" class="tk" text-anchor="middle">0</text>
<text x="423.1" y="3082.8" font-size="38" class="tk" text-anchor="middle">200</text>
<text x="627.3" y="3082.8" font-size="38" class="tk" text-anchor="middle">400</text>
<text x="831.6" y="3082.8" font-size="38" class="tk" text-anchor="middle">600</text>
<text x="1035.9" y="3082.8" font-size="38" class="tk" text-anchor="middle">800</text>
<text x="1240.2" y="3082.8" font-size="38" class="tk" text-anchor="middle">1000</text>
<text x="1444.4" y="3082.8" font-size="38" class="tk" text-anchor="middle">1200</text>
<text x="1648.7" y="3082.8" font-size="38" class="tk" text-anchor="middle">1400</text>
<text x="1853.0" y="3082.8" font-size="38" class="tk" text-anchor="middle">1600</text>
<text x="2057.2" y="3082.8" font-size="38" class="tk" text-anchor="middle">1800</text>
<text x="2261.5" y="3082.8" font-size="38" class="tk" text-anchor="middle">2000</text>
<text x="38.6" y="1707.2" font-size="69.5" class="bk" textLength="90.6" lengthAdjust="spacingAndGlyphs">(b)</text>
<text x="1537.2" y="1627.4" font-size="44.5" class="bk" textLength="730.5" lengthAdjust="spacingAndGlyphs">Measurement taken along green line</text>
<text x="743" y="2983.9" font-size="56" class="tk" textLength="1044" lengthAdjust="spacingAndGlyphs">Distance along measurement line (µm)</text>
<text transform="translate(90.9 2450.4) rotate(-90)" x="0" y="0" font-size="61.5" class="tk" textLength="236" lengthAdjust="spacingAndGlyphs">At % (Zn)</text>
</g>
</svg>
</body></html>
